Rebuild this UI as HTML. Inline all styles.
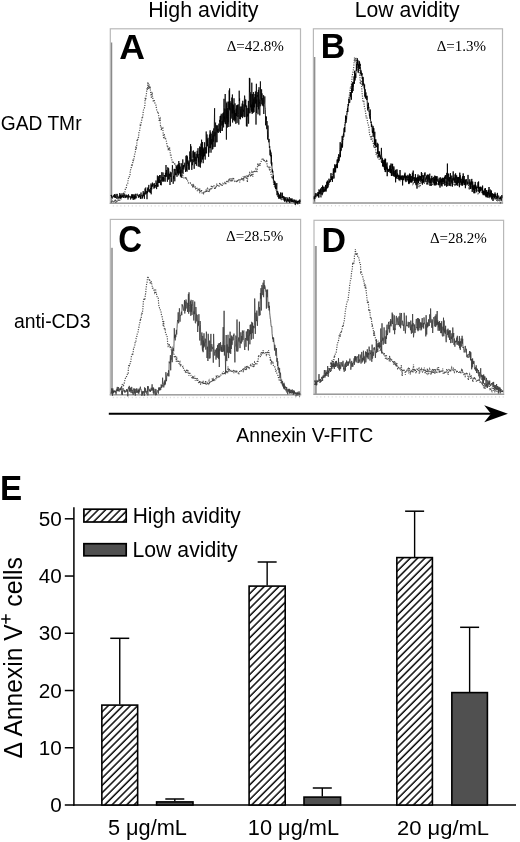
<!DOCTYPE html>
<html><head><meta charset="utf-8"><title>Figure</title>
<style>html,body{margin:0;padding:0;background:#fff;}body{width:520px;height:842px;overflow:hidden;font-family:"Liberation Sans",sans-serif;}svg{display:block;will-change:transform;}</style>
</head><body>
<svg width="520" height="842" viewBox="0 0 520 842"><defs><pattern id="hatch" patternUnits="userSpaceOnUse" width="5.2" height="5.2" patternTransform="rotate(45)"><rect width="5.2" height="5.2" fill="#fff"/><line x1="3.57" y1="0" x2="3.57" y2="5.2" stroke="#000" stroke-width="1.45"/></pattern></defs>
<text transform="translate(148.14,17.00) scale(1.0688,1.1200)" x="0" y="0" font-family='"Liberation Sans", sans-serif' font-weight="normal" font-size="20" fill="#000">High avidity</text>
<text transform="translate(354.65,17.00) scale(1.0602,1.1273)" x="0" y="0" font-family='"Liberation Sans", sans-serif' font-weight="normal" font-size="20" fill="#000">Low avidity</text>
<text transform="translate(0.74,130.40) scale(0.9619,1.0400)" x="0" y="0" font-family='"Liberation Sans", sans-serif' font-weight="normal" font-size="20" fill="#000">GAD TMr</text>
<text transform="translate(13.88,327.50) scale(0.9702,1.0036)" x="0" y="0" font-family='"Liberation Sans", sans-serif' font-weight="normal" font-size="20" fill="#000">anti-CD3</text>
<rect x="110.3" y="28.8" width="190.2" height="174.2" fill="none" stroke="#b8b8b8" stroke-width="1.2"/>
<rect x="110.95" y="42.5" width="1.3" height="160.50" fill="#8a8a8a"/>
<line x1="109.7" y1="203.30" x2="301.1" y2="203.30" stroke="#9a9a9a" stroke-width="1.2"/>
<path d="M113.3,205.2 v1.4 M117.1,205.2 v1.4 M120.9,205.2 v1.4 M124.7,205.2 v1.4 M128.5,205.2 v1.4 M132.3,205.2 v1.4 M136.1,205.2 v1.4 M139.9,205.2 v1.4 M143.7,205.2 v1.4 M147.5,205.2 v1.4 M151.3,205.2 v1.4 M155.1,205.2 v1.4 M158.9,205.2 v1.4 M162.7,205.2 v1.4 M166.5,205.2 v1.4 M170.3,205.2 v1.4 M174.1,205.2 v1.4 M177.9,205.2 v1.4 M181.7,205.2 v1.4 M185.5,205.2 v1.4 M189.3,205.2 v1.4 M193.1,205.2 v1.4 M196.9,205.2 v1.4 M200.7,205.2 v1.4 M204.5,205.2 v1.4 M208.3,205.2 v1.4 M212.1,205.2 v1.4 M215.9,205.2 v1.4 M219.7,205.2 v1.4 M223.5,205.2 v1.4 M227.3,205.2 v1.4 M231.1,205.2 v1.4 M234.9,205.2 v1.4 M238.7,205.2 v1.4 M242.5,205.2 v1.4 M246.3,205.2 v1.4 M250.1,205.2 v1.4 M253.9,205.2 v1.4 M257.7,205.2 v1.4 M261.5,205.2 v1.4 M265.3,205.2 v1.4 M269.1,205.2 v1.4 M272.9,205.2 v1.4 M276.7,205.2 v1.4 M280.5,205.2 v1.4 M284.3,205.2 v1.4 M288.1,205.2 v1.4 M291.9,205.2 v1.4 M295.7,205.2 v1.4 M299.5,205.2 v1.4" stroke="#d8d8d8" stroke-width="1"/>
<rect x="313.4" y="28.8" width="189.10000000000002" height="174.0" fill="none" stroke="#b8b8b8" stroke-width="1.2"/>
<rect x="314.05" y="57.0" width="1.3" height="145.80" fill="#8a8a8a"/>
<line x1="312.79999999999995" y1="203.10" x2="503.1" y2="203.10" stroke="#9a9a9a" stroke-width="1.2"/>
<path d="M316.4,205.0 v1.4 M320.2,205.0 v1.4 M324.0,205.0 v1.4 M327.8,205.0 v1.4 M331.6,205.0 v1.4 M335.4,205.0 v1.4 M339.2,205.0 v1.4 M343.0,205.0 v1.4 M346.8,205.0 v1.4 M350.6,205.0 v1.4 M354.4,205.0 v1.4 M358.2,205.0 v1.4 M362.0,205.0 v1.4 M365.8,205.0 v1.4 M369.6,205.0 v1.4 M373.4,205.0 v1.4 M377.2,205.0 v1.4 M381.0,205.0 v1.4 M384.8,205.0 v1.4 M388.6,205.0 v1.4 M392.4,205.0 v1.4 M396.2,205.0 v1.4 M400.0,205.0 v1.4 M403.8,205.0 v1.4 M407.6,205.0 v1.4 M411.4,205.0 v1.4 M415.2,205.0 v1.4 M419.0,205.0 v1.4 M422.8,205.0 v1.4 M426.6,205.0 v1.4 M430.4,205.0 v1.4 M434.2,205.0 v1.4 M438.0,205.0 v1.4 M441.8,205.0 v1.4 M445.6,205.0 v1.4 M449.4,205.0 v1.4 M453.2,205.0 v1.4 M457.0,205.0 v1.4 M460.8,205.0 v1.4 M464.6,205.0 v1.4 M468.4,205.0 v1.4 M472.2,205.0 v1.4 M476.0,205.0 v1.4 M479.8,205.0 v1.4 M483.6,205.0 v1.4 M487.4,205.0 v1.4 M491.2,205.0 v1.4 M495.0,205.0 v1.4 M498.8,205.0 v1.4" stroke="#d8d8d8" stroke-width="1"/>
<rect x="110.3" y="219.4" width="190.3" height="175.20000000000002" fill="none" stroke="#b8b8b8" stroke-width="1.2"/>
<rect x="110.80" y="247.8" width="2.2" height="146.80" fill="#a8a8a8"/>
<line x1="109.7" y1="394.90" x2="301.20000000000005" y2="394.90" stroke="#9a9a9a" stroke-width="1.2"/>
<path d="M113.3,396.8 v1.4 M117.1,396.8 v1.4 M120.9,396.8 v1.4 M124.7,396.8 v1.4 M128.5,396.8 v1.4 M132.3,396.8 v1.4 M136.1,396.8 v1.4 M139.9,396.8 v1.4 M143.7,396.8 v1.4 M147.5,396.8 v1.4 M151.3,396.8 v1.4 M155.1,396.8 v1.4 M158.9,396.8 v1.4 M162.7,396.8 v1.4 M166.5,396.8 v1.4 M170.3,396.8 v1.4 M174.1,396.8 v1.4 M177.9,396.8 v1.4 M181.7,396.8 v1.4 M185.5,396.8 v1.4 M189.3,396.8 v1.4 M193.1,396.8 v1.4 M196.9,396.8 v1.4 M200.7,396.8 v1.4 M204.5,396.8 v1.4 M208.3,396.8 v1.4 M212.1,396.8 v1.4 M215.9,396.8 v1.4 M219.7,396.8 v1.4 M223.5,396.8 v1.4 M227.3,396.8 v1.4 M231.1,396.8 v1.4 M234.9,396.8 v1.4 M238.7,396.8 v1.4 M242.5,396.8 v1.4 M246.3,396.8 v1.4 M250.1,396.8 v1.4 M253.9,396.8 v1.4 M257.7,396.8 v1.4 M261.5,396.8 v1.4 M265.3,396.8 v1.4 M269.1,396.8 v1.4 M272.9,396.8 v1.4 M276.7,396.8 v1.4 M280.5,396.8 v1.4 M284.3,396.8 v1.4 M288.1,396.8 v1.4 M291.9,396.8 v1.4 M295.7,396.8 v1.4 M299.5,396.8 v1.4" stroke="#d8d8d8" stroke-width="1"/>
<rect x="314.0" y="220.3" width="189.60000000000002" height="173.7" fill="none" stroke="#b8b8b8" stroke-width="1.2"/>
<rect x="314.80" y="246.0" width="2.0" height="148.00" fill="#9a9a9a"/>
<line x1="313.4" y1="394.30" x2="504.20000000000005" y2="394.30" stroke="#9a9a9a" stroke-width="1.2"/>
<path d="M317.0,396.2 v1.4 M320.8,396.2 v1.4 M324.6,396.2 v1.4 M328.4,396.2 v1.4 M332.2,396.2 v1.4 M336.0,396.2 v1.4 M339.8,396.2 v1.4 M343.6,396.2 v1.4 M347.4,396.2 v1.4 M351.2,396.2 v1.4 M355.0,396.2 v1.4 M358.8,396.2 v1.4 M362.6,396.2 v1.4 M366.4,396.2 v1.4 M370.2,396.2 v1.4 M374.0,396.2 v1.4 M377.8,396.2 v1.4 M381.6,396.2 v1.4 M385.4,396.2 v1.4 M389.2,396.2 v1.4 M393.0,396.2 v1.4 M396.8,396.2 v1.4 M400.6,396.2 v1.4 M404.4,396.2 v1.4 M408.2,396.2 v1.4 M412.0,396.2 v1.4 M415.8,396.2 v1.4 M419.6,396.2 v1.4 M423.4,396.2 v1.4 M427.2,396.2 v1.4 M431.0,396.2 v1.4 M434.8,396.2 v1.4 M438.6,396.2 v1.4 M442.4,396.2 v1.4 M446.2,396.2 v1.4 M450.0,396.2 v1.4 M453.8,396.2 v1.4 M457.6,396.2 v1.4 M461.4,396.2 v1.4 M465.2,396.2 v1.4 M469.0,396.2 v1.4 M472.8,396.2 v1.4 M476.6,396.2 v1.4 M480.4,396.2 v1.4 M484.2,396.2 v1.4 M488.0,396.2 v1.4 M491.8,396.2 v1.4 M495.6,396.2 v1.4 M499.4,396.2 v1.4 M503.2,396.2 v1.4" stroke="#d8d8d8" stroke-width="1"/>
<text transform="translate(119.16,58.60) scale(1.0470,1.0439)" x="0" y="0" font-family='"Liberation Sans", sans-serif' font-weight="bold" font-size="34" fill="#000">A</text>
<text transform="translate(320.81,57.70) scale(0.9981,1.0353)" x="0" y="0" font-family='"Liberation Sans", sans-serif' font-weight="bold" font-size="34" fill="#000">B</text>
<text transform="translate(118.28,251.50) scale(0.9699,1.0753)" x="0" y="0" font-family='"Liberation Sans", sans-serif' font-weight="bold" font-size="34" fill="#000">C</text>
<text transform="translate(321.51,251.50) scale(0.9988,1.0567)" x="0" y="0" font-family='"Liberation Sans", sans-serif' font-weight="bold" font-size="34" fill="#000">D</text>
<text transform="translate(-0.04,499.90) scale(0.9769,1.0439)" x="0" y="0" font-family='"Liberation Sans", sans-serif' font-weight="bold" font-size="34" fill="#000">E</text>
<text transform="translate(226.63,50.70) scale(1.0072,0.9825)" x="0" y="0" font-family='"Liberation Serif", serif' font-weight="normal" font-size="15" fill="#000">Δ=42.8%</text>
<text transform="translate(436.64,50.70) scale(1.0021,0.9825)" x="0" y="0" font-family='"Liberation Serif", serif' font-weight="normal" font-size="15" fill="#000">Δ=1.3%</text>
<text transform="translate(226.03,241.40) scale(1.0072,0.9524)" x="0" y="0" font-family='"Liberation Serif", serif' font-weight="normal" font-size="15" fill="#000">Δ=28.5%</text>
<text transform="translate(429.94,243.00) scale(1.0018,0.9825)" x="0" y="0" font-family='"Liberation Serif", serif' font-weight="normal" font-size="15" fill="#000">Δ=28.2%</text>
<path d="M111.0,201.5 111.5,202.6 111.9,202.4 112.4,200.9 112.8,201.0 113.3,200.8 113.7,201.7 114.2,201.1 114.6,201.8 115.1,199.3 115.5,202.6 116.0,200.9 116.4,201.6 116.9,200.7 117.3,200.4 117.8,201.3 118.2,201.6 118.7,200.4 119.1,200.4 119.6,201.3 120.0,199.5 120.5,198.1 120.9,199.7 121.4,197.8 121.8,195.6 122.3,196.4 122.7,196.2 123.2,194.6 123.6,193.6 124.1,194.9 124.5,194.4 125.0,191.3 125.4,189.0 125.9,188.9 126.3,187.8 126.8,184.7 127.2,184.4 127.7,183.5 128.1,180.0 128.6,177.5 129.0,177.7 129.5,175.9 129.9,175.7 130.4,170.2 130.8,169.6 131.3,167.5 131.7,164.0 132.2,165.0 132.6,163.7 133.1,159.5 133.5,161.2 134.0,158.2 134.4,155.8 134.9,153.4 135.3,152.4 135.8,146.2 136.2,147.7 136.7,145.7 137.1,139.2 137.6,141.0 138.0,137.6 138.5,137.4 138.9,132.8 139.4,131.5 139.8,130.0 140.3,125.3 140.7,126.1 141.2,122.5 141.6,121.5 142.1,117.0 142.5,117.8 143.0,114.3 143.4,110.2 143.9,109.4 144.3,108.2 144.8,106.7 145.2,97.5 145.7,99.9 146.1,96.3 146.6,92.5 147.0,88.0 147.5,89.8 147.9,82.1 148.4,86.2 148.8,89.0 149.3,84.6 149.7,88.5 150.2,87.8 150.6,92.3 151.1,96.2 151.5,98.3 152.0,91.8 152.4,95.4 152.9,99.0 153.3,101.9 153.8,100.7 154.2,99.5 154.7,102.7 155.1,103.3 155.6,104.7 156.0,105.3 156.5,109.2 156.9,110.7 157.4,111.6 157.8,113.1 158.3,112.6 158.7,115.9 159.2,120.9 159.6,119.7 160.1,118.7 160.5,125.8 161.0,125.7 161.4,130.3 161.9,127.8 162.3,128.3 162.8,127.9 163.2,134.8 163.7,138.8 164.1,133.7 164.6,135.4 165.0,139.0 165.5,137.6 165.9,140.0 166.4,141.2 166.8,143.5 167.3,146.5 167.7,145.8 168.2,148.8 168.6,147.7 169.1,150.4 169.5,147.4 170.0,150.0 170.4,155.5 170.9,154.4 171.3,157.9 171.8,159.2 172.2,162.0 172.7,162.1 173.1,163.3 173.6,162.2 174.0,162.1 174.5,162.9 174.9,164.1 175.4,163.9 175.8,165.8 176.3,167.4 176.7,168.8 177.2,168.6 177.6,166.5 178.1,170.1 178.5,171.1 179.0,173.0 179.4,172.7 179.9,171.3 180.3,171.7 180.8,176.6 181.2,175.1 181.7,177.3 182.1,178.3 182.6,174.2 183.0,176.6 183.5,177.2 183.9,177.8 184.4,178.3 184.8,178.3 185.3,178.7 185.7,176.7 186.2,179.2 186.6,178.9 187.1,180.6 187.5,180.3 188.0,182.3 188.4,183.0 188.9,182.7 189.3,183.1 189.8,183.1 190.2,182.8 190.7,183.6 191.1,183.5 191.6,185.1 192.0,185.0 192.5,186.2 192.9,183.9 193.4,187.4 193.8,185.4 194.3,185.8 194.7,187.0 195.2,186.8 195.6,188.4 196.1,187.6 196.5,187.2 197.0,187.9 197.4,191.3 197.9,189.9 198.3,188.5 198.8,190.4 199.2,188.4 199.7,193.3 200.1,188.9 200.6,191.9 201.0,192.3 201.5,189.7 201.9,192.4 202.4,193.6 202.8,193.1 203.3,192.7 203.7,193.5 204.2,192.2 204.6,192.2 205.1,191.3 205.5,192.1 206.0,189.7 206.4,191.9 206.9,189.9 207.3,188.8 207.8,190.6 208.2,192.3 208.7,191.0 209.1,188.7 209.6,190.2 210.0,188.4 210.5,188.6 210.9,188.8 211.4,185.2 211.8,188.6 212.3,186.6 212.7,186.9 213.2,185.6 213.6,185.4 214.1,186.0 214.5,188.4 215.0,189.4 215.4,186.8 215.9,188.2 216.3,186.1 216.8,183.6 217.2,186.3 217.7,186.6 218.1,185.1 218.6,186.0 219.0,186.2 219.5,183.9 219.9,182.8 220.4,184.4 220.8,184.1 221.3,183.7 221.7,185.4 222.2,186.2 222.6,182.9 223.1,184.2 223.5,184.3 224.0,183.7 224.4,184.0 224.9,181.7 225.3,183.1 225.8,184.7 226.2,182.7 226.7,180.4 227.1,181.9 227.6,182.6 228.0,181.1 228.5,179.5 228.9,182.3 229.4,178.2 229.8,180.8 230.3,180.1 230.7,178.4 231.2,181.9 231.6,180.7 232.1,178.5 232.5,181.1 233.0,179.6 233.4,177.5 233.9,179.3 234.3,180.7 234.8,181.3 235.2,180.6 235.7,180.5 236.1,181.1 236.6,180.2 237.0,182.2 237.5,180.7 237.9,181.0 238.4,181.4 238.8,178.9 239.3,179.3 239.7,182.3 240.2,180.4 240.6,179.3 241.1,180.0 241.5,178.7 242.0,179.6 242.4,178.0 242.9,179.2 243.3,176.3 243.8,180.4 244.2,177.5 244.7,175.8 245.1,177.6 245.6,177.2 246.0,177.7 246.5,175.7 246.9,177.7 247.4,182.2 247.8,174.9 248.3,177.0 248.7,175.7 249.2,176.0 249.6,172.7 250.1,173.3 250.5,175.3 251.0,174.2 251.4,176.2 251.9,172.4 252.3,173.4 252.8,177.0 253.2,171.2 253.7,170.7 254.1,171.5 254.6,171.1 255.0,172.1 255.5,170.6 255.9,169.0 256.4,169.7 256.8,172.5 257.3,169.7 257.7,163.0 258.2,166.1 258.6,164.3 259.1,165.7 259.5,163.7 260.0,165.9 260.4,163.6 260.9,162.6 261.3,160.7 261.8,159.4 262.2,159.1 262.7,160.1 263.1,159.5 263.6,158.7 264.0,161.7 264.5,160.6 264.9,160.8 265.4,160.4 265.8,161.5 266.3,162.1 266.7,159.7 267.2,166.1 267.6,166.2 268.1,165.8 268.5,168.5 269.0,168.5 269.4,169.3 269.9,166.1 270.3,170.3 270.8,172.3 271.2,175.2 271.7,177.3 272.1,178.5 272.6,176.5 273.0,176.8 273.5,182.6 273.9,183.6 274.4,186.3 274.8,185.8 275.3,187.4 275.7,186.0 276.2,190.0 276.6,189.8 277.1,192.1 277.5,193.4 278.0,193.7 278.4,194.9 278.9,194.8 279.3,196.4 279.8,196.4 280.2,195.3 280.7,195.7 281.1,199.6 281.6,197.3 282.0,199.3 282.5,198.9 282.9,197.9 283.4,197.8 283.8,199.2 284.3,199.6 284.7,200.3 285.2,197.6 285.6,198.8 286.1,199.6 286.5,202.3 287.0,196.6 287.4,200.9 287.9,199.6 288.3,201.2 288.8,199.9 289.2,201.3 289.7,203.3 290.1,201.6 290.6,201.9 291.0,201.9 291.5,200.4 291.9,202.5 292.4,201.4 292.8,200.5 293.3,201.7 293.7,201.4 294.2,202.9 294.6,201.7 295.1,201.0 295.5,204.0 296.0,203.3 296.4,203.8 296.9,202.8 297.3,201.7 297.8,201.3 298.2,201.5 298.7,203.4 299.1,202.1 299.6,199.8 300.0,201.9" fill="none" stroke="#4a4a4a" stroke-width="1.2" stroke-dasharray="1.1 1.3"/>
<path d="M111.0,195.2 111.2,195.8 111.4,194.9 111.6,197.4 111.8,196.6 112.0,197.2 112.2,198.3 112.4,198.4 112.6,197.7 112.8,196.2 113.0,195.8 113.2,195.7 113.4,196.4 113.6,196.9 113.8,195.4 114.0,195.1 114.2,197.4 114.4,194.0 114.6,196.7 114.8,197.6 115.0,195.4 115.2,195.2 115.4,195.7 115.6,198.0 115.8,196.7 116.0,193.9 116.2,196.2 116.4,198.5 116.6,198.5 116.8,197.9 117.0,196.5 117.2,193.9 117.4,197.2 117.6,196.6 117.8,197.0 118.0,199.4 118.2,197.2 118.4,197.3 118.6,197.8 118.8,196.5 119.0,195.8 119.2,195.7 119.4,198.1 119.6,197.7 119.8,193.0 120.0,198.7 120.2,197.1 120.4,194.7 120.6,197.8 120.8,196.6 121.0,194.7 121.2,197.7 121.4,196.3 121.6,196.2 121.8,197.8 122.0,193.3 122.2,194.8 122.4,196.1 122.6,197.2 122.8,195.7 123.0,195.2 123.2,195.1 123.4,196.6 123.6,197.9 123.8,194.5 124.0,193.5 124.2,196.3 124.4,196.2 124.6,195.3 124.8,195.1 125.0,198.1 125.2,195.9 125.4,196.2 125.6,197.7 125.8,196.1 126.0,194.5 126.2,196.6 126.4,195.3 126.6,197.3 126.8,195.9 127.0,196.4 127.2,197.6 127.4,196.5 127.6,195.7 127.8,195.1 128.0,199.5 128.2,198.5 128.4,194.3 128.6,195.0 128.8,197.6 129.0,195.8 129.2,196.7 129.4,197.2 129.6,196.9 129.8,196.5 130.0,195.9 130.2,196.6 130.4,197.3 130.6,199.5 130.8,198.4 131.0,196.4 131.2,198.1 131.4,196.9 131.6,194.3 131.8,196.5 132.0,198.3 132.2,195.7 132.4,198.2 132.6,194.4 132.8,196.7 133.0,194.7 133.2,200.0 133.4,197.4 133.6,198.2 133.8,195.9 134.0,194.3 134.2,198.6 134.4,195.5 134.6,199.3 134.8,195.8 135.0,199.2 135.2,195.4 135.4,193.8 135.6,197.7 135.8,196.5 136.0,196.6 136.2,198.3 136.4,195.2 136.6,194.5 136.8,194.7 137.0,193.9 137.2,193.7 137.4,194.5 137.6,195.0 137.8,195.8 138.0,194.6 138.2,196.3 138.4,197.7 138.6,196.2 138.8,197.2 139.0,195.0 139.2,196.9 139.4,197.2 139.6,195.4 139.8,194.0 140.0,196.1 140.2,196.3 140.4,198.6 140.6,195.7 140.8,198.9 141.0,192.5 141.2,195.8 141.4,195.5 141.6,195.6 141.8,195.4 142.0,196.1 142.2,198.7 142.4,195.7 142.6,197.8 142.8,194.7 143.0,195.7 143.2,191.1 143.4,195.4 143.6,196.3 143.8,192.8 144.0,193.7 144.2,193.1 144.4,198.8 144.6,192.5 144.8,192.8 145.0,188.5 145.2,190.7 145.4,194.4 145.6,188.4 145.8,187.5 146.0,192.8 146.2,193.5 146.4,193.7 146.6,193.7 146.8,191.2 147.0,199.2 147.2,190.8 147.4,193.1 147.6,188.5 147.8,189.9 148.0,187.3 148.2,191.6 148.4,189.8 148.6,187.9 148.8,184.9 149.0,191.7 149.2,192.3 149.4,192.2 149.6,189.3 149.8,191.4 150.0,191.8 150.2,190.4 150.4,193.0 150.6,188.0 150.8,188.9 151.0,183.5 151.2,194.3 151.4,185.4 151.6,188.5 151.8,189.3 152.0,184.6 152.2,186.8 152.4,182.6 152.6,186.2 152.8,185.3 153.0,185.1 153.2,183.6 153.4,185.1 153.6,186.7 153.8,186.8 154.0,188.7 154.2,185.2 154.4,183.2 154.6,187.5 154.8,185.8 155.0,187.8 155.2,185.0 155.4,186.0 155.6,185.3 155.8,186.3 156.0,180.5 156.2,183.2 156.4,184.0 156.6,189.1 156.8,182.9 157.0,184.6 157.2,182.2 157.4,175.5 157.6,186.8 157.8,184.7 158.0,186.6 158.2,177.3 158.4,182.9 158.6,182.4 158.8,176.0 159.0,183.1 159.2,179.1 159.4,182.9 159.6,175.0 159.8,177.6 160.0,178.1 160.2,175.0 160.4,180.6 160.6,185.0 160.8,180.0 161.0,182.3 161.2,185.3 161.4,181.7 161.6,178.1 161.8,172.2 162.0,180.6 162.2,177.9 162.4,177.2 162.6,181.6 162.8,180.8 163.0,172.5 163.2,179.3 163.4,177.0 163.6,181.4 163.8,177.9 164.0,181.4 164.2,175.1 164.4,176.0 164.6,175.2 164.8,176.5 165.0,176.1 165.2,181.7 165.4,172.9 165.6,177.0 165.8,171.9 166.0,165.0 166.2,173.8 166.4,170.0 166.6,176.7 166.8,172.8 167.0,173.5 167.2,177.4 167.4,181.8 167.6,173.2 167.8,167.3 168.0,173.5 168.2,175.0 168.4,179.6 168.6,168.2 168.8,171.2 169.0,178.5 169.2,179.1 169.4,173.7 169.6,175.6 169.8,174.4 170.0,185.0 170.2,171.7 170.4,172.3 170.6,172.7 170.8,176.9 171.0,172.5 171.2,175.9 171.4,177.4 171.6,181.9 171.8,172.8 172.0,172.0 172.2,171.8 172.4,165.2 172.6,168.0 172.8,173.6 173.0,173.5 173.2,183.8 173.4,178.0 173.6,175.9 173.8,178.8 174.0,169.5 174.2,169.8 174.4,168.9 174.6,171.3 174.8,181.3 175.0,170.7 175.2,168.9 175.4,171.8 175.6,175.2 175.8,173.5 176.0,175.0 176.2,165.9 176.4,167.2 176.6,169.9 176.8,171.3 177.0,176.8 177.2,165.0 177.4,173.4 177.6,169.4 177.8,173.1 178.0,167.3 178.2,163.9 178.4,175.3 178.6,171.2 178.8,161.0 179.0,172.9 179.2,165.0 179.4,169.0 179.6,169.3 179.8,163.1 180.0,174.2 180.2,166.6 180.4,176.4 180.6,171.0 180.8,171.0 181.0,169.7 181.2,177.4 181.4,163.4 181.6,164.4 181.8,164.8 182.0,173.1 182.2,172.5 182.4,167.8 182.6,168.5 182.8,159.4 183.0,173.9 183.2,165.8 183.4,167.2 183.6,165.1 183.8,169.5 184.0,165.2 184.2,166.6 184.4,166.4 184.6,163.4 184.8,162.7 185.0,167.4 185.2,167.2 185.4,168.7 185.6,172.0 185.8,158.9 186.0,155.8 186.2,162.6 186.4,170.6 186.6,164.1 186.8,155.3 187.0,171.7 187.2,166.3 187.4,156.4 187.6,159.5 187.8,163.9 188.0,160.5 188.2,162.5 188.4,165.5 188.6,162.9 188.8,169.6 189.0,161.6 189.2,169.8 189.4,159.4 189.6,156.3 189.8,151.5 190.0,157.5 190.2,162.2 190.4,159.6 190.6,144.1 190.8,161.1 191.0,146.3 191.2,152.7 191.4,158.2 191.6,162.2 191.8,169.9 192.0,161.0 192.2,159.4 192.4,165.2 192.6,161.5 192.8,158.8 193.0,151.2 193.2,157.6 193.4,150.5 193.6,160.3 193.8,162.2 194.0,159.3 194.2,168.8 194.4,152.5 194.6,160.8 194.8,158.6 195.0,151.8 195.2,160.9 195.4,162.6 195.6,164.1 195.8,156.8 196.0,161.1 196.2,153.8 196.4,165.7 196.6,161.5 196.8,158.0 197.0,158.2 197.2,150.8 197.4,156.8 197.6,154.5 197.8,157.8 198.0,148.2 198.2,166.4 198.4,157.2 198.6,162.3 198.8,158.7 199.0,154.0 199.2,166.9 199.4,162.0 199.6,146.5 199.8,155.0 200.0,153.6 200.2,150.0 200.4,167.6 200.6,147.1 200.8,163.5 201.0,143.6 201.2,162.2 201.4,150.4 201.6,139.7 201.8,154.9 202.0,156.0 202.2,147.2 202.4,159.4 202.6,142.0 202.8,159.3 203.0,155.8 203.2,163.2 203.4,149.2 203.6,157.1 203.8,147.6 204.0,156.4 204.2,152.5 204.4,155.9 204.6,142.3 204.8,153.5 205.0,152.5 205.2,159.6 205.4,147.3 205.6,148.0 205.8,153.2 206.0,152.1 206.2,131.5 206.4,146.1 206.6,153.4 206.8,144.9 207.0,134.4 207.2,144.3 207.4,146.2 207.6,139.4 207.8,146.2 208.0,137.8 208.2,143.7 208.4,145.3 208.6,156.8 208.8,146.5 209.0,152.7 209.2,145.0 209.4,135.0 209.6,134.5 209.8,148.1 210.0,130.6 210.2,130.3 210.4,148.1 210.6,135.2 210.8,132.4 211.0,152.7 211.2,133.8 211.4,144.4 211.6,139.3 211.8,140.3 212.0,139.3 212.2,146.2 212.4,149.4 212.6,130.8 212.8,149.1 213.0,135.5 213.2,135.4 213.4,141.6 213.6,131.8 213.8,128.4 214.0,147.1 214.2,130.4 214.4,117.9 214.6,108.2 214.8,136.3 215.0,132.2 215.2,146.8 215.4,123.3 215.6,122.6 215.8,132.2 216.0,142.3 216.2,135.6 216.4,131.1 216.6,125.3 216.8,131.2 217.0,142.2 217.2,128.8 217.4,125.4 217.6,132.4 217.8,130.0 218.0,128.9 218.2,131.7 218.4,132.8 218.6,127.9 218.8,123.7 219.0,124.0 219.2,130.1 219.4,131.6 219.6,119.9 219.8,120.4 220.0,122.1 220.2,116.1 220.4,133.0 220.6,115.7 220.8,124.3 221.0,131.0 221.2,113.8 221.4,114.6 221.6,120.3 221.8,125.5 222.0,122.4 222.2,120.9 222.4,130.9 222.6,114.7 222.8,113.4 223.0,124.7 223.2,119.6 223.4,112.5 223.6,127.4 223.8,107.8 224.0,98.8 224.2,121.9 224.4,116.5 224.6,119.3 224.8,108.6 225.0,123.6 225.2,94.0 225.4,121.1 225.6,124.2 225.8,116.9 226.0,115.0 226.2,109.5 226.4,139.6 226.6,103.2 226.8,118.5 227.0,101.7 227.2,107.7 227.4,127.5 227.6,108.2 227.8,124.1 228.0,111.1 228.2,122.2 228.4,101.6 228.6,103.9 228.8,127.0 229.0,116.7 229.2,90.4 229.4,109.1 229.6,88.4 229.8,110.3 230.0,101.1 230.2,104.2 230.4,126.3 230.6,107.9 230.8,107.1 231.0,102.7 231.2,118.6 231.4,117.5 231.6,105.0 231.8,97.6 232.0,110.5 232.2,113.5 232.4,94.5 232.6,122.5 232.8,104.0 233.0,113.0 233.2,105.1 233.4,105.2 233.6,120.3 233.8,112.8 234.0,98.3 234.2,114.9 234.4,119.2 234.6,110.3 234.8,121.4 235.0,103.4 235.2,120.2 235.4,113.0 235.6,113.1 235.8,123.8 236.0,117.8 236.2,108.6 236.4,116.0 236.6,105.3 236.8,115.9 237.0,123.1 237.2,122.2 237.4,104.9 237.6,109.1 237.8,116.9 238.0,116.4 238.2,104.4 238.4,113.0 238.6,114.5 238.8,124.6 239.0,113.0 239.2,90.7 239.4,101.1 239.6,98.5 239.8,119.0 240.0,111.3 240.2,106.6 240.4,119.3 240.6,114.9 240.8,109.5 241.0,116.9 241.2,106.7 241.4,116.7 241.6,113.7 241.8,106.4 242.0,106.6 242.2,103.5 242.4,118.1 242.6,108.8 242.8,100.8 243.0,116.3 243.2,114.1 243.4,109.8 243.6,111.6 243.8,106.3 244.0,104.3 244.2,117.2 244.4,99.3 244.6,95.6 244.8,97.3 245.0,116.9 245.2,99.5 245.4,106.5 245.6,102.4 245.8,99.7 246.0,107.2 246.2,107.6 246.4,126.1 246.6,105.5 246.8,110.8 247.0,126.6 247.2,121.1 247.4,114.0 247.6,116.5 247.8,108.1 248.0,115.8 248.2,110.8 248.4,100.9 248.6,123.7 248.8,108.2 249.0,113.3 249.2,103.6 249.4,77.9 249.6,92.2 249.8,78.4 250.0,113.2 250.2,92.1 250.4,102.7 250.6,107.3 250.8,93.9 251.0,102.4 251.2,110.3 251.4,104.6 251.6,111.8 251.8,82.7 252.0,111.6 252.2,113.9 252.4,94.1 252.6,112.8 252.8,102.3 253.0,103.5 253.2,110.6 253.4,92.1 253.6,112.7 253.8,98.7 254.0,112.0 254.2,104.2 254.4,107.3 254.6,97.3 254.8,104.2 255.0,94.0 255.2,98.1 255.4,91.5 255.6,103.4 255.8,94.9 256.0,124.6 256.2,95.6 256.4,83.8 256.6,113.0 256.8,99.5 257.0,107.0 257.2,102.9 257.4,95.2 257.6,96.6 257.8,92.1 258.0,114.3 258.2,107.2 258.4,89.8 258.6,109.3 258.8,105.7 259.0,87.2 259.2,93.8 259.4,103.3 259.6,102.2 259.8,115.4 260.0,99.5 260.2,106.3 260.4,81.4 260.6,98.2 260.8,98.8 261.0,98.3 261.2,100.3 261.4,99.8 261.6,89.3 261.8,104.2 262.0,93.4 262.2,105.4 262.4,104.7 262.6,105.2 262.8,98.1 263.0,103.5 263.2,106.3 263.4,99.7 263.6,95.2 263.8,114.0 264.0,104.4 264.2,104.2 264.4,102.7 264.6,102.7 264.8,96.4 265.0,106.1 265.2,107.3 265.4,109.7 265.6,125.3 265.8,116.1 266.0,116.0 266.2,119.7 266.4,116.9 266.6,124.4 266.8,128.9 267.0,121.1 267.2,130.2 267.4,130.4 267.6,139.5 267.8,134.8 268.0,125.5 268.2,131.1 268.4,137.5 268.6,138.2 268.8,142.3 269.0,139.0 269.2,142.1 269.4,147.8 269.6,146.5 269.8,146.2 270.0,155.3 270.2,149.7 270.4,152.3 270.6,151.2 270.8,156.4 271.0,152.5 271.2,163.7 271.4,155.0 271.6,165.5 271.8,162.4 272.0,167.4 272.2,172.1 272.4,169.5 272.6,172.4 272.8,170.9 273.0,173.4 273.2,178.9 273.4,175.4 273.6,181.1 273.8,180.9 274.0,180.7 274.2,185.0 274.4,180.9 274.6,184.6 274.8,181.2 275.0,184.3 275.2,182.5 275.4,186.6 275.6,188.8 275.8,184.1 276.0,188.9 276.2,189.0 276.4,188.1 276.6,188.8 276.8,183.0 277.0,195.2 277.2,191.2 277.4,191.7 277.6,192.9 277.8,191.5 278.0,197.1 278.2,193.5 278.4,192.9 278.6,198.6 278.8,197.6 279.0,196.7 279.2,194.7 279.4,198.5 279.6,195.9 279.8,196.5 280.0,198.4 280.2,196.6 280.4,195.6 280.6,192.6 280.8,198.9 281.0,192.7 281.2,195.6 281.4,195.5 281.6,196.2 281.8,196.6 282.0,198.3 282.2,197.0 282.4,192.7 282.6,197.8 282.8,195.9 283.0,197.4 283.2,196.0 283.4,196.9 283.6,198.1 283.8,200.1 284.0,199.6 284.2,200.7 284.4,196.7 284.6,201.6 284.8,198.4 285.0,200.1 285.2,200.5 285.4,200.7 285.6,199.3 285.8,197.2 286.0,200.9 286.2,201.7 286.4,201.6 286.6,201.6 286.8,202.4 287.0,201.3 287.2,199.3 287.4,201.1 287.6,198.3 287.8,199.9 288.0,200.2 288.2,201.8 288.4,199.7 288.6,199.3 288.8,199.4 289.0,201.0 289.2,197.7 289.4,197.0 289.6,202.8 289.8,202.2 290.0,201.4 290.2,201.0 290.4,199.6 290.6,198.4 290.8,201.2 291.0,199.0 291.2,201.9 291.4,201.0 291.6,198.8 291.8,201.1 292.0,198.4 292.2,199.8 292.4,202.1 292.6,199.9 292.8,200.5 293.0,200.1 293.2,200.3 293.4,202.2 293.6,201.7 293.8,201.8 294.0,199.3 294.2,200.9 294.4,200.4 294.6,201.5 294.8,200.1 295.0,202.6 295.2,204.7 295.4,201.7 295.6,200.9 295.8,202.5 296.0,199.8 296.2,201.1 296.4,202.7 296.6,201.3 296.8,201.8 297.0,203.4 297.2,202.1 297.4,202.6 297.6,200.9 297.8,204.3 298.0,201.6 298.2,200.8 298.4,202.1 298.6,202.0 298.8,200.8 299.0,201.8 299.2,202.2 299.4,203.5 299.6,202.2 299.8,199.6 300.0,202.3" fill="none" stroke="#000" stroke-width="0.8" stroke-linejoin="miter"/>
<path d="M314.0,198.4 314.4,199.3 314.9,195.6 315.3,198.9 315.8,196.9 316.2,195.8 316.7,195.5 317.1,195.0 317.6,195.6 318.0,196.5 318.5,195.9 318.9,195.7 319.4,192.9 319.8,192.7 320.3,196.0 320.7,195.0 321.2,196.2 321.6,194.7 322.1,191.6 322.5,193.8 323.0,192.6 323.4,191.6 323.9,189.8 324.3,190.3 324.8,189.6 325.2,190.4 325.7,188.9 326.1,190.2 326.6,186.8 327.0,187.9 327.5,187.2 327.9,184.5 328.4,183.2 328.8,185.0 329.3,183.5 329.7,181.6 330.2,181.4 330.6,179.1 331.1,179.3 331.5,177.2 332.0,177.4 332.4,177.5 332.9,174.7 333.3,175.1 333.8,171.2 334.2,170.9 334.7,168.1 335.1,168.6 335.6,167.5 336.0,165.8 336.5,164.4 336.9,165.4 337.4,164.2 337.8,159.0 338.3,161.2 338.7,155.6 339.2,155.1 339.6,153.8 340.1,152.2 340.5,148.3 341.0,146.7 341.4,145.9 341.9,142.6 342.3,140.6 342.8,140.5 343.2,138.0 343.7,133.3 344.1,130.5 344.6,127.5 345.0,123.8 345.5,120.7 345.9,116.7 346.4,117.0 346.8,112.6 347.3,109.6 347.7,107.3 348.2,105.1 348.6,103.9 349.1,97.3 349.5,94.0 350.0,92.2 350.4,86.9 350.9,88.5 351.3,84.5 351.8,80.6 352.2,75.3 352.7,74.0 353.1,71.7 353.6,67.9 354.0,63.5 354.5,57.6 354.9,61.6 355.4,58.9 355.8,58.6 356.3,63.8 356.7,63.3 357.2,60.0 357.6,64.6 358.1,66.7 358.5,72.1 359.0,67.8 359.4,73.8 359.9,77.4 360.3,84.1 360.8,81.3 361.2,80.2 361.7,86.8 362.1,93.5 362.6,97.2 363.0,101.9 363.5,101.5 363.9,101.4 364.4,107.6 364.8,108.3 365.3,110.4 365.7,113.3 366.2,118.2 366.6,115.8 367.1,117.9 367.5,122.1 368.0,124.4 368.4,125.1 368.9,127.2 369.3,132.0 369.8,135.8 370.2,136.1 370.7,137.6 371.1,140.4 371.6,135.5 372.0,138.1 372.5,141.3 372.9,141.9 373.4,143.9 373.8,147.6 374.3,146.0 374.7,148.6 375.2,146.3 375.6,149.4 376.1,154.9 376.5,152.0 377.0,154.6 377.4,156.3 377.9,154.8 378.3,157.9 378.8,158.0 379.2,159.9 379.7,158.1 380.1,157.3 380.6,158.7 381.0,160.2 381.5,163.0 381.9,162.1 382.4,162.3 382.8,163.3 383.3,166.4 383.7,163.7 384.2,168.4 384.6,163.6 385.1,165.4 385.5,168.8 386.0,168.7 386.4,166.6 386.9,168.7 387.3,167.9 387.8,171.4 388.2,171.1 388.7,169.0 389.1,171.6 389.6,170.5 390.0,171.4 390.5,172.1 390.9,171.2 391.4,173.5 391.8,174.0 392.3,174.3 392.7,176.0 393.2,173.7 393.6,171.7 394.1,174.0 394.5,175.8 395.0,175.8 395.4,177.3 395.9,178.1 396.3,176.6 396.8,176.9 397.2,175.4 397.7,179.5 398.1,177.1 398.6,175.7 399.0,175.8 399.5,177.4 399.9,181.4 400.4,180.1 400.8,175.4 401.3,178.7 401.7,179.6 402.2,180.5 402.6,180.1 403.1,178.4 403.5,180.6 404.0,178.9 404.4,175.8 404.9,178.9 405.3,179.1 405.8,182.4 406.2,182.7 406.7,178.8 407.1,181.3 407.6,181.3 408.0,178.5 408.5,177.4 408.9,181.3 409.4,181.9 409.8,180.6 410.3,176.7 410.7,182.0 411.2,181.1 411.6,180.6 412.1,181.9 412.5,180.4 413.0,183.8 413.4,182.9 413.9,181.9 414.3,183.5 414.8,182.9 415.2,180.1 415.7,182.7 416.1,182.1 416.6,179.6 417.0,181.7 417.5,183.8 417.9,181.8 418.4,185.7 418.8,186.3 419.3,182.4 419.7,184.1 420.2,186.8 420.6,182.4 421.1,181.3 421.5,182.2 422.0,180.4 422.4,180.4 422.9,183.4 423.3,182.2 423.8,183.5 424.2,183.9 424.7,181.5 425.1,182.6 425.6,182.5 426.0,181.7 426.5,181.4 426.9,183.6 427.4,182.7 427.8,183.6 428.3,184.9 428.7,184.9 429.2,180.9 429.6,181.4 430.1,182.5 430.5,183.2 431.0,184.8 431.4,181.2 431.9,182.2 432.3,183.5 432.8,185.3 433.2,185.6 433.7,181.1 434.1,182.6 434.6,181.5 435.0,184.6 435.5,183.8 435.9,182.3 436.4,181.8 436.8,183.6 437.3,184.9 437.7,181.5 438.2,182.4 438.6,183.2 439.1,183.0 439.5,183.6 440.0,181.1 440.4,181.9 440.9,179.0 441.3,183.1 441.8,185.0 442.2,179.1 442.7,181.8 443.1,184.7 443.6,182.7 444.0,179.4 444.5,185.2 444.9,180.3 445.4,185.6 445.8,181.9 446.3,181.7 446.7,183.1 447.2,183.0 447.6,184.1 448.1,183.9 448.5,182.7 449.0,185.5 449.4,184.3 449.9,183.5 450.3,183.3 450.8,182.8 451.2,182.9 451.7,184.2 452.1,183.9 452.6,183.1 453.0,184.9 453.5,182.5 453.9,183.8 454.4,184.6 454.8,180.9 455.3,182.5 455.7,186.1 456.2,181.2 456.6,185.2 457.1,181.0 457.5,183.8 458.0,181.0 458.4,181.8 458.9,182.3 459.3,182.0 459.8,184.9 460.2,184.6 460.7,184.6 461.1,183.4 461.6,186.0 462.0,184.9 462.5,183.6 462.9,181.1 463.4,184.5 463.8,184.6 464.3,183.7 464.7,185.0 465.2,185.2 465.6,183.4 466.1,185.2 466.5,184.9 467.0,185.0 467.4,183.9 467.9,183.9 468.3,185.1 468.8,187.7 469.2,189.7 469.7,185.0 470.1,184.0 470.6,185.7 471.0,185.1 471.5,186.1 471.9,187.9 472.4,185.8 472.8,188.9 473.3,189.6 473.7,191.2 474.2,192.1 474.6,190.9 475.1,193.4 475.5,188.4 476.0,190.0 476.4,190.0 476.9,190.7 477.3,191.9 477.8,189.6 478.2,193.5 478.7,192.9 479.1,191.4 479.6,191.8 480.0,189.3 480.5,186.7 480.9,191.3 481.4,192.2 481.8,192.2 482.3,190.0 482.7,191.4 483.2,195.6 483.6,194.0 484.1,194.0 484.5,192.5 485.0,194.7 485.4,195.9 485.9,195.2 486.3,193.3 486.8,194.8 487.2,192.9 487.7,194.2 488.1,196.0 488.6,194.2 489.0,195.0 489.5,198.2 489.9,195.5 490.4,197.4 490.8,195.7 491.3,194.3 491.7,196.5 492.2,196.0 492.6,193.2 493.1,194.8 493.5,196.4 494.0,199.9 494.4,196.4 494.9,197.5 495.3,198.9 495.8,198.4 496.2,197.4 496.7,201.2 497.1,200.7 497.6,194.1 498.0,200.4 498.5,199.8 498.9,200.7 499.4,199.3 499.8,200.8 500.3,202.9 500.7,202.6 501.2,202.9 501.6,201.8" fill="none" stroke="#4a4a4a" stroke-width="1.2" stroke-dasharray="1.1 1.3"/>
<path d="M314.0,196.4 314.2,198.7 314.4,198.9 314.6,197.1 314.8,197.1 315.0,195.6 315.2,194.8 315.4,193.3 315.6,194.4 315.8,197.3 316.0,195.7 316.2,195.8 316.4,194.5 316.6,193.6 316.8,193.3 317.0,193.7 317.2,196.0 317.4,194.9 317.6,194.0 317.8,193.3 318.0,192.1 318.2,196.5 318.4,192.2 318.6,194.2 318.8,197.7 319.0,189.4 319.2,191.3 319.4,192.3 319.6,193.7 319.8,190.3 320.0,192.8 320.2,193.1 320.4,193.3 320.6,188.5 320.8,193.9 321.0,195.5 321.2,193.2 321.4,191.0 321.6,191.0 321.8,187.0 322.0,192.7 322.2,194.4 322.4,192.6 322.6,185.5 322.8,190.2 323.0,190.6 323.2,189.7 323.4,192.4 323.6,186.8 323.8,188.6 324.0,191.0 324.2,191.6 324.4,189.7 324.6,191.3 324.8,190.0 325.0,186.7 325.2,191.2 325.4,187.4 325.6,184.9 325.8,188.9 326.0,191.6 326.2,189.6 326.4,189.5 326.6,187.6 326.8,181.8 327.0,188.2 327.2,186.9 327.4,180.6 327.6,184.5 327.8,183.6 328.0,187.4 328.2,185.0 328.4,184.9 328.6,184.4 328.8,180.5 329.0,178.7 329.2,182.8 329.4,181.6 329.6,181.8 329.8,181.1 330.0,179.9 330.2,181.9 330.4,180.7 330.6,178.4 330.8,175.1 331.0,173.1 331.2,175.3 331.4,177.9 331.6,180.0 331.8,176.4 332.0,178.6 332.2,179.4 332.4,181.9 332.6,176.5 332.8,179.0 333.0,175.5 333.2,171.5 333.4,168.4 333.6,174.1 333.8,175.0 334.0,178.4 334.2,170.2 334.4,172.5 334.6,170.5 334.8,164.3 335.0,170.6 335.2,168.3 335.4,165.4 335.6,172.4 335.8,166.0 336.0,168.2 336.2,165.8 336.4,164.1 336.6,165.0 336.8,167.0 337.0,162.6 337.2,159.5 337.4,168.1 337.6,164.0 337.8,159.7 338.0,161.5 338.2,156.9 338.4,160.5 338.6,162.5 338.8,154.2 339.0,161.1 339.2,160.1 339.4,156.2 339.6,156.3 339.8,154.2 340.0,153.0 340.2,142.2 340.4,157.2 340.6,149.7 340.8,151.1 341.0,149.2 341.2,150.3 341.4,149.7 341.6,144.2 341.8,147.4 342.0,144.6 342.2,135.9 342.4,147.5 342.6,146.2 342.8,138.8 343.0,138.3 343.2,135.9 343.4,134.2 343.6,133.3 343.8,136.7 344.0,129.3 344.2,127.8 344.4,131.9 344.6,127.4 344.8,132.2 345.0,124.0 345.2,124.1 345.4,121.9 345.6,115.6 345.8,122.9 346.0,122.9 346.2,122.5 346.4,117.6 346.6,119.3 346.8,115.4 347.0,114.4 347.2,110.9 347.4,111.8 347.6,108.0 347.8,112.0 348.0,106.5 348.2,104.0 348.4,106.1 348.6,105.2 348.8,98.7 349.0,99.8 349.2,100.6 349.4,103.0 349.6,102.6 349.8,102.6 350.0,98.0 350.2,95.1 350.4,92.1 350.6,96.6 350.8,93.8 351.0,95.9 351.2,97.1 351.4,99.7 351.6,88.5 351.8,92.8 352.0,83.8 352.2,92.7 352.4,83.6 352.6,86.6 352.8,82.1 353.0,91.0 353.2,86.3 353.4,86.7 353.6,81.9 353.8,82.9 354.0,76.4 354.2,77.8 354.4,83.9 354.6,70.8 354.8,77.1 355.0,80.5 355.2,79.2 355.4,76.8 355.6,73.5 355.8,77.9 356.0,70.7 356.2,70.9 356.4,63.7 356.6,70.7 356.8,67.5 357.0,67.9 357.2,58.2 357.4,61.7 357.6,65.0 357.8,59.9 358.0,67.0 358.2,72.7 358.4,64.7 358.6,67.1 358.8,64.0 359.0,64.4 359.2,60.9 359.4,69.1 359.6,62.3 359.8,65.9 360.0,66.0 360.2,63.9 360.4,66.4 360.6,69.1 360.8,74.0 361.0,70.4 361.2,75.8 361.4,72.7 361.6,72.7 361.8,75.1 362.0,73.2 362.2,78.9 362.4,77.1 362.6,78.2 362.8,85.7 363.0,76.9 363.2,77.5 363.4,82.1 363.6,84.6 363.8,83.5 364.0,87.9 364.2,88.2 364.4,89.4 364.6,84.5 364.8,96.6 365.0,91.8 365.2,89.3 365.4,98.5 365.6,94.5 365.8,92.9 366.0,92.5 366.2,97.5 366.4,96.2 366.6,95.9 366.8,100.1 367.0,95.8 367.2,100.5 367.4,106.7 367.6,109.7 367.8,110.5 368.0,105.0 368.2,105.5 368.4,102.8 368.6,108.3 368.8,106.9 369.0,111.9 369.2,111.4 369.4,115.6 369.6,114.4 369.8,117.2 370.0,118.8 370.2,109.5 370.4,115.5 370.6,120.9 370.8,121.2 371.0,122.9 371.2,121.7 371.4,126.9 371.6,124.0 371.8,125.8 372.0,125.6 372.2,131.2 372.4,132.7 372.6,130.8 372.8,133.1 373.0,125.9 373.2,136.8 373.4,127.9 373.6,133.4 373.8,128.2 374.0,135.1 374.2,135.8 374.4,145.3 374.6,135.9 374.8,131.8 375.0,141.8 375.2,141.2 375.4,139.8 375.6,146.5 375.8,139.3 376.0,144.4 376.2,145.1 376.4,146.9 376.6,146.1 376.8,147.2 377.0,146.7 377.2,142.8 377.4,146.0 377.6,153.8 377.8,153.9 378.0,143.8 378.2,152.8 378.4,154.7 378.6,156.5 378.8,152.3 379.0,151.1 379.2,157.1 379.4,153.1 379.6,151.8 379.8,156.7 380.0,154.8 380.2,155.6 380.4,156.0 380.6,159.1 380.8,157.7 381.0,158.0 381.2,153.8 381.4,147.9 381.6,155.3 381.8,157.0 382.0,162.8 382.2,157.9 382.4,158.6 382.6,166.4 382.8,161.8 383.0,159.8 383.2,163.4 383.4,162.0 383.6,166.6 383.8,164.6 384.0,160.3 384.2,166.8 384.4,160.1 384.6,170.0 384.8,165.9 385.0,158.6 385.2,171.9 385.4,163.2 385.6,158.9 385.8,172.1 386.0,163.8 386.2,166.3 386.4,166.3 386.6,167.6 386.8,169.5 387.0,162.5 387.2,176.2 387.4,170.4 387.6,168.5 387.8,170.6 388.0,169.2 388.2,171.5 388.4,171.1 388.6,171.8 388.8,170.9 389.0,169.1 389.2,170.4 389.4,168.6 389.6,171.4 389.8,165.7 390.0,165.6 390.2,173.0 390.4,165.5 390.6,171.5 390.8,172.7 391.0,163.5 391.2,171.3 391.4,175.8 391.6,169.2 391.8,176.0 392.0,164.2 392.2,164.4 392.4,168.5 392.6,163.8 392.8,174.4 393.0,167.6 393.2,169.7 393.4,169.8 393.6,176.3 393.8,166.4 394.0,168.1 394.2,170.8 394.4,172.6 394.6,175.1 394.8,176.7 395.0,171.1 395.2,175.1 395.4,170.3 395.6,182.3 395.8,174.1 396.0,169.7 396.2,177.8 396.4,175.1 396.6,178.5 396.8,177.7 397.0,169.4 397.2,177.2 397.4,173.8 397.6,173.5 397.8,175.2 398.0,174.8 398.2,175.9 398.4,178.7 398.6,175.6 398.8,176.5 399.0,180.3 399.2,175.2 399.4,177.2 399.6,176.3 399.8,179.8 400.0,170.0 400.2,177.0 400.4,179.6 400.6,177.3 400.8,178.4 401.0,176.2 401.2,178.3 401.4,176.3 401.6,179.5 401.8,176.6 402.0,175.5 402.2,177.1 402.4,175.7 402.6,185.4 402.8,179.1 403.0,177.7 403.2,176.4 403.4,179.9 403.6,175.8 403.8,176.1 404.0,175.6 404.2,176.3 404.4,176.5 404.6,174.2 404.8,178.5 405.0,172.7 405.2,179.2 405.4,181.3 405.6,175.6 405.8,176.1 406.0,181.0 406.2,176.0 406.4,178.2 406.6,177.7 406.8,177.5 407.0,175.6 407.2,180.2 407.4,178.5 407.6,177.1 407.8,177.4 408.0,174.8 408.2,180.3 408.4,180.0 408.6,183.5 408.8,176.3 409.0,184.1 409.2,179.1 409.4,183.0 409.6,173.6 409.8,179.7 410.0,180.9 410.2,174.1 410.4,180.5 410.6,182.3 410.8,176.4 411.0,182.3 411.2,180.6 411.4,182.5 411.6,178.3 411.8,175.9 412.0,177.9 412.2,180.1 412.4,172.7 412.6,180.9 412.8,179.7 413.0,179.4 413.2,170.6 413.4,176.4 413.6,178.9 413.8,178.3 414.0,181.0 414.2,177.0 414.4,177.4 414.6,182.6 414.8,179.4 415.0,179.0 415.2,177.9 415.4,174.1 415.6,181.3 415.8,178.3 416.0,185.2 416.2,177.8 416.4,180.0 416.6,177.8 416.8,180.9 417.0,188.6 417.2,178.9 417.4,177.1 417.6,181.2 417.8,180.9 418.0,174.5 418.2,183.1 418.4,176.6 418.6,183.0 418.8,180.4 419.0,178.3 419.2,181.1 419.4,178.0 419.6,175.6 419.8,178.1 420.0,179.6 420.2,176.0 420.4,180.0 420.6,176.3 420.8,181.8 421.0,179.7 421.2,178.7 421.4,172.1 421.6,180.7 421.8,173.0 422.0,177.6 422.2,175.0 422.4,184.6 422.6,179.4 422.8,180.4 423.0,181.6 423.2,178.4 423.4,181.9 423.6,175.3 423.8,182.7 424.0,181.7 424.2,179.9 424.4,173.4 424.6,173.8 424.8,175.9 425.0,172.4 425.2,181.7 425.4,178.9 425.6,178.8 425.8,179.4 426.0,177.5 426.2,177.3 426.4,178.7 426.6,175.5 426.8,180.0 427.0,180.8 427.2,184.3 427.4,174.6 427.6,176.6 427.8,181.4 428.0,180.8 428.2,178.1 428.4,174.7 428.6,179.8 428.8,180.1 429.0,182.9 429.2,177.5 429.4,180.4 429.6,175.2 429.8,173.7 430.0,185.9 430.2,178.4 430.4,182.8 430.6,181.9 430.8,180.3 431.0,184.0 431.2,186.0 431.4,178.7 431.6,180.3 431.8,175.9 432.0,180.8 432.2,181.7 432.4,178.4 432.6,178.8 432.8,177.9 433.0,179.3 433.2,183.6 433.4,179.3 433.6,179.5 433.8,176.9 434.0,181.6 434.2,181.0 434.4,178.8 434.6,185.2 434.8,175.6 435.0,184.0 435.2,181.6 435.4,176.2 435.6,181.9 435.8,185.4 436.0,183.8 436.2,181.8 436.4,184.5 436.6,176.5 436.8,180.8 437.0,176.2 437.2,179.4 437.4,180.3 437.6,180.3 437.8,180.6 438.0,179.2 438.2,180.7 438.4,181.9 438.6,184.9 438.8,180.7 439.0,185.3 439.2,177.7 439.4,182.9 439.6,182.3 439.8,181.4 440.0,187.6 440.2,180.1 440.4,182.0 440.6,177.4 440.8,178.0 441.0,179.4 441.2,185.6 441.4,181.8 441.6,178.7 441.8,182.0 442.0,186.4 442.2,179.2 442.4,181.5 442.6,177.8 442.8,179.8 443.0,183.8 443.2,177.8 443.4,181.4 443.6,181.6 443.8,179.7 444.0,178.1 444.2,182.4 444.4,178.2 444.6,176.8 444.8,185.6 445.0,180.5 445.2,175.5 445.4,178.3 445.6,178.8 445.8,175.0 446.0,178.9 446.2,183.0 446.4,182.2 446.6,186.7 446.8,172.9 447.0,179.0 447.2,179.4 447.4,163.6 447.6,177.9 447.8,186.1 448.0,178.4 448.2,181.5 448.4,180.5 448.6,173.6 448.8,177.0 449.0,182.4 449.2,184.0 449.4,185.8 449.6,177.3 449.8,181.7 450.0,177.3 450.2,179.0 450.4,173.1 450.6,181.1 450.8,186.2 451.0,181.3 451.2,180.7 451.4,181.7 451.6,181.8 451.8,175.6 452.0,183.1 452.2,178.3 452.4,186.6 452.6,183.0 452.8,180.4 453.0,180.5 453.2,171.4 453.4,180.2 453.6,180.3 453.8,179.9 454.0,177.5 454.2,182.2 454.4,181.4 454.6,178.7 454.8,180.1 455.0,174.5 455.2,183.1 455.4,178.8 455.6,173.4 455.8,177.4 456.0,180.4 456.2,185.1 456.4,179.9 456.6,175.3 456.8,175.8 457.0,184.2 457.2,179.7 457.4,177.3 457.6,182.1 457.8,185.8 458.0,177.3 458.2,179.7 458.4,182.6 458.6,177.0 458.8,177.3 459.0,180.4 459.2,176.9 459.4,187.2 459.6,183.7 459.8,172.7 460.0,178.7 460.2,175.3 460.4,182.5 460.6,178.5 460.8,182.6 461.0,183.8 461.2,178.8 461.4,180.2 461.6,184.1 461.8,182.6 462.0,185.3 462.2,182.4 462.4,177.0 462.6,185.5 462.8,176.0 463.0,177.0 463.2,173.4 463.4,176.2 463.6,183.4 463.8,179.3 464.0,182.4 464.2,176.0 464.4,181.7 464.6,184.8 464.8,185.0 465.0,180.5 465.2,184.2 465.4,188.2 465.6,179.5 465.8,183.7 466.0,182.5 466.2,181.3 466.4,179.3 466.6,180.1 466.8,182.2 467.0,184.7 467.2,181.6 467.4,182.9 467.6,183.0 467.8,183.9 468.0,174.9 468.2,179.8 468.4,180.7 468.6,181.5 468.8,184.6 469.0,185.6 469.2,185.3 469.4,184.4 469.6,181.1 469.8,179.3 470.0,180.9 470.2,189.0 470.4,182.5 470.6,182.5 470.8,189.0 471.0,185.0 471.2,181.3 471.4,184.4 471.6,181.0 471.8,178.9 472.0,187.3 472.2,191.9 472.4,189.5 472.6,181.6 472.8,181.6 473.0,189.7 473.2,187.9 473.4,188.6 473.6,189.3 473.8,185.4 474.0,193.3 474.2,184.7 474.4,192.7 474.6,188.2 474.8,185.8 475.0,188.2 475.2,181.9 475.4,183.3 475.6,188.7 475.8,185.2 476.0,189.5 476.2,192.3 476.4,190.0 476.6,186.6 476.8,190.0 477.0,187.7 477.2,187.1 477.4,187.8 477.6,187.0 477.8,184.0 478.0,182.3 478.2,182.1 478.4,188.6 478.6,181.5 478.8,191.5 479.0,187.0 479.2,188.1 479.4,190.1 479.6,193.1 479.8,186.9 480.0,186.8 480.2,190.0 480.4,187.1 480.6,191.3 480.8,186.7 481.0,189.7 481.2,189.1 481.4,188.3 481.6,187.7 481.8,187.6 482.0,190.4 482.2,189.1 482.4,193.5 482.6,185.6 482.8,192.3 483.0,192.2 483.2,194.7 483.4,190.7 483.6,193.9 483.8,191.4 484.0,190.9 484.2,195.2 484.4,193.1 484.6,190.7 484.8,188.6 485.0,194.4 485.2,193.9 485.4,188.1 485.6,192.1 485.8,196.4 486.0,192.2 486.2,197.3 486.4,194.1 486.6,190.1 486.8,191.3 487.0,195.6 487.2,194.3 487.4,196.9 487.6,192.0 487.8,193.0 488.0,197.9 488.2,194.1 488.4,189.9 488.6,194.0 488.8,193.3 489.0,187.0 489.2,194.4 489.4,195.3 489.6,197.2 489.8,192.8 490.0,196.1 490.2,189.5 490.4,196.6 490.6,193.8 490.8,191.6 491.0,194.5 491.2,196.0 491.4,190.5 491.6,197.3 491.8,199.4 492.0,195.9 492.2,198.2 492.4,194.6 492.6,193.3 492.8,196.7 493.0,201.0 493.2,196.4 493.4,194.0 493.6,194.5 493.8,196.5 494.0,195.8 494.2,194.0 494.4,197.9 494.6,195.2 494.8,197.8 495.0,192.5 495.2,196.9 495.4,194.6 495.6,196.6 495.8,194.4 496.0,198.7 496.2,197.0 496.4,196.8 496.6,196.5 496.8,196.0 497.0,199.4 497.2,198.8 497.4,192.9 497.6,196.8 497.8,198.2 498.0,197.0 498.2,196.2 498.4,196.2 498.6,195.8 498.8,195.8 499.0,199.3 499.2,198.6 499.4,198.3 499.6,199.2 499.8,198.4 500.0,198.5 500.2,196.9 500.4,199.3 500.6,196.6 500.8,198.5 501.0,198.5 501.2,200.8 501.4,199.1 501.6,199.1 501.8,195.1 502.0,197.9" fill="none" stroke="#000" stroke-width="0.9" stroke-linejoin="miter"/>
<path d="M111.0,391.7 111.5,392.1 111.9,392.3 112.4,390.9 112.8,392.3 113.3,391.7 113.7,392.1 114.2,391.6 114.6,392.3 115.1,390.2 115.5,392.8 116.0,392.1 116.4,390.2 116.9,391.4 117.3,391.1 117.8,388.6 118.2,391.1 118.7,389.6 119.1,389.9 119.6,389.4 120.0,389.5 120.5,389.4 120.9,388.7 121.4,385.9 121.8,386.7 122.3,384.6 122.7,384.0 123.2,384.4 123.6,385.3 124.1,384.3 124.5,381.5 125.0,379.9 125.4,378.3 125.9,378.2 126.3,377.8 126.8,375.1 127.2,374.6 127.7,372.6 128.1,372.9 128.6,366.1 129.0,364.4 129.5,365.7 129.9,365.3 130.4,361.8 130.8,361.5 131.3,357.1 131.7,355.2 132.2,354.4 132.6,355.3 133.1,353.3 133.5,349.0 134.0,348.8 134.4,345.5 134.9,344.9 135.3,341.0 135.8,341.2 136.2,338.1 136.7,337.5 137.1,334.6 137.6,332.4 138.0,332.2 138.5,329.0 138.9,327.3 139.4,324.1 139.8,323.8 140.3,318.6 140.7,319.4 141.2,318.2 141.6,312.7 142.1,314.4 142.5,312.6 143.0,307.0 143.4,301.1 143.9,298.2 144.3,298.7 144.8,300.2 145.2,295.4 145.7,293.2 146.1,288.2 146.6,284.2 147.0,283.4 147.5,277.5 147.9,276.3 148.4,278.0 148.8,278.3 149.3,280.5 149.7,279.7 150.2,283.1 150.6,283.9 151.1,281.0 151.5,283.2 152.0,284.6 152.4,288.1 152.9,288.1 153.3,288.8 153.8,289.4 154.2,291.0 154.7,292.4 155.1,290.1 155.6,288.8 156.0,294.0 156.5,294.0 156.9,296.2 157.4,297.5 157.8,297.4 158.3,298.3 158.7,305.0 159.2,306.9 159.6,308.3 160.1,308.6 160.5,310.8 161.0,311.5 161.4,314.5 161.9,315.7 162.3,317.5 162.8,321.0 163.2,325.9 163.7,321.1 164.1,327.8 164.6,329.7 165.0,328.0 165.5,332.7 165.9,334.1 166.4,334.9 166.8,336.6 167.3,336.8 167.7,344.2 168.2,346.4 168.6,346.0 169.1,343.6 169.5,345.7 170.0,346.9 170.4,345.8 170.9,347.8 171.3,350.3 171.8,349.6 172.2,348.3 172.7,350.3 173.1,354.0 173.6,353.8 174.0,354.5 174.5,357.9 174.9,356.4 175.4,355.6 175.8,357.3 176.3,361.6 176.7,356.8 177.2,362.2 177.6,362.2 178.1,360.2 178.5,360.5 179.0,364.0 179.4,362.7 179.9,362.0 180.3,366.3 180.8,364.3 181.2,365.1 181.7,365.3 182.1,365.3 182.6,366.6 183.0,366.4 183.5,368.3 183.9,369.8 184.4,370.4 184.8,371.1 185.3,372.1 185.7,371.4 186.2,369.9 186.6,372.6 187.1,369.3 187.5,371.1 188.0,373.0 188.4,370.6 188.9,375.6 189.3,372.5 189.8,372.3 190.2,373.8 190.7,374.3 191.1,375.7 191.6,376.0 192.0,378.1 192.5,376.9 192.9,377.7 193.4,376.4 193.8,378.7 194.3,377.2 194.7,375.8 195.2,380.7 195.6,377.6 196.1,377.9 196.5,378.4 197.0,380.9 197.4,378.1 197.9,379.9 198.3,381.6 198.8,383.7 199.2,380.9 199.7,381.7 200.1,380.7 200.6,384.8 201.0,381.9 201.5,382.1 201.9,382.4 202.4,381.0 202.8,382.4 203.3,380.7 203.7,384.6 204.2,382.4 204.6,382.4 205.1,384.4 205.5,381.1 206.0,384.8 206.4,385.1 206.9,381.9 207.3,383.8 207.8,382.5 208.2,383.7 208.7,382.2 209.1,380.7 209.6,382.6 210.0,381.2 210.5,381.5 210.9,382.4 211.4,382.5 211.8,381.5 212.3,378.4 212.7,381.1 213.2,379.5 213.6,381.1 214.1,379.0 214.5,381.1 215.0,379.5 215.4,378.4 215.9,378.6 216.3,375.3 216.8,378.4 217.2,377.4 217.7,375.4 218.1,377.3 218.6,376.8 219.0,376.6 219.5,375.6 219.9,376.6 220.4,376.4 220.8,375.1 221.3,374.6 221.7,373.8 222.2,373.3 222.6,374.8 223.1,372.8 223.5,371.3 224.0,373.4 224.4,374.4 224.9,372.1 225.3,373.5 225.8,372.7 226.2,370.3 226.7,371.9 227.1,371.0 227.6,371.9 228.0,366.6 228.5,371.6 228.9,371.2 229.4,368.5 229.8,371.4 230.3,369.8 230.7,370.3 231.2,371.4 231.6,372.2 232.1,370.6 232.5,371.4 233.0,371.2 233.4,369.6 233.9,373.1 234.3,371.9 234.8,371.1 235.2,372.5 235.7,371.9 236.1,370.4 236.6,372.7 237.0,371.5 237.5,372.4 237.9,372.9 238.4,373.0 238.8,374.5 239.3,372.1 239.7,371.3 240.2,370.3 240.6,370.2 241.1,371.9 241.5,371.3 242.0,369.2 242.4,369.4 242.9,369.4 243.3,372.1 243.8,368.2 244.2,369.9 244.7,366.8 245.1,368.6 245.6,370.7 246.0,366.6 246.5,369.9 246.9,365.3 247.4,367.9 247.8,366.0 248.3,367.3 248.7,366.8 249.2,368.0 249.6,367.0 250.1,366.5 250.5,365.2 251.0,366.4 251.4,364.3 251.9,364.3 252.3,364.0 252.8,365.5 253.2,367.6 253.7,364.0 254.1,366.6 254.6,362.0 255.0,362.4 255.5,363.7 255.9,363.6 256.4,363.5 256.8,364.4 257.3,361.1 257.7,362.2 258.2,360.2 258.6,354.9 259.1,356.7 259.5,356.6 260.0,356.7 260.4,356.5 260.9,354.5 261.3,356.0 261.8,351.9 262.2,352.4 262.7,353.0 263.1,350.1 263.6,353.8 264.0,353.5 264.5,352.1 264.9,352.5 265.4,352.6 265.8,352.9 266.3,354.9 266.7,354.0 267.2,351.4 267.6,351.4 268.1,354.7 268.5,350.2 269.0,352.5 269.4,354.8 269.9,356.6 270.3,359.5 270.8,358.7 271.2,364.6 271.7,360.6 272.1,362.5 272.6,363.7 273.0,363.1 273.5,365.8 273.9,366.4 274.4,366.9 274.8,366.8 275.3,368.2 275.7,371.1 276.2,370.9 276.6,372.7 277.1,373.8 277.5,374.8 278.0,375.5 278.4,377.5 278.9,379.0 279.3,380.9 279.8,380.8 280.2,380.3 280.7,381.0 281.1,383.5 281.6,380.9 282.0,383.0 282.5,385.9 282.9,384.5 283.4,384.6 283.8,388.0 284.3,382.8 284.7,387.2 285.2,387.3 285.6,387.8 286.1,390.5 286.5,391.8 287.0,391.5 287.4,390.9 287.9,390.7 288.3,390.1 288.8,390.7 289.2,388.5 289.7,390.4 290.1,392.3 290.6,391.4 291.0,393.1 291.5,389.7 291.9,391.4 292.4,391.0 292.8,394.3 293.3,392.6 293.7,392.8 294.2,391.5 294.6,392.7 295.1,392.0 295.5,392.7 296.0,396.8 296.4,391.9 296.9,393.3 297.3,392.4 297.8,395.7 298.2,392.4 298.7,392.6 299.1,394.5 299.6,396.5 300.0,394.4" fill="none" stroke="#4a4a4a" stroke-width="1.2" stroke-dasharray="1.1 1.3"/>
<path d="M111.0,394.0 111.3,392.1 111.6,388.4 111.9,390.0 112.2,389.9 112.5,395.7 112.8,388.4 113.1,393.5 113.4,390.8 113.7,392.8 114.0,390.5 114.3,391.4 114.6,391.6 114.9,390.8 115.2,392.0 115.5,391.3 115.8,393.3 116.1,394.5 116.4,390.4 116.7,390.1 117.0,389.3 117.3,386.9 117.6,391.2 117.9,389.4 118.2,388.8 118.5,387.1 118.8,390.1 119.1,391.7 119.4,389.4 119.7,388.6 120.0,389.4 120.3,390.3 120.6,388.1 120.9,389.4 121.2,388.2 121.5,390.3 121.8,394.5 122.1,391.0 122.4,395.0 122.7,389.1 123.0,388.1 123.3,390.0 123.6,390.8 123.9,391.5 124.2,391.5 124.5,389.9 124.8,392.6 125.1,390.5 125.4,392.2 125.7,391.6 126.0,391.2 126.3,391.1 126.6,389.1 126.9,391.9 127.2,392.0 127.5,389.6 127.8,396.3 128.1,391.0 128.4,387.9 128.7,387.2 129.0,388.8 129.3,385.9 129.6,391.6 129.9,388.4 130.2,391.6 130.5,387.7 130.8,391.2 131.1,393.1 131.4,392.0 131.7,386.9 132.0,390.9 132.3,389.9 132.6,393.3 132.9,391.7 133.2,394.9 133.5,388.7 133.8,388.4 134.1,388.8 134.4,393.5 134.7,388.7 135.0,391.2 135.3,395.6 135.6,390.8 135.9,388.9 136.2,392.8 136.5,391.7 136.8,388.3 137.1,392.6 137.4,391.3 137.7,392.4 138.0,389.5 138.3,393.4 138.6,389.8 138.9,393.6 139.2,388.5 139.5,391.6 139.8,391.6 140.1,388.1 140.4,386.7 140.7,389.4 141.0,389.2 141.3,389.5 141.6,390.6 141.9,395.8 142.2,391.2 142.5,394.5 142.8,391.7 143.1,393.4 143.4,392.2 143.7,391.1 144.0,392.0 144.3,395.8 144.6,387.4 144.9,391.5 145.2,392.4 145.5,388.3 145.8,392.2 146.1,391.4 146.4,393.7 146.7,392.4 147.0,390.9 147.3,391.6 147.6,386.2 147.9,395.4 148.2,386.2 148.5,387.9 148.8,388.8 149.1,390.4 149.4,389.7 149.7,391.3 150.0,389.4 150.3,392.0 150.6,389.9 150.9,390.7 151.2,387.8 151.5,389.2 151.8,390.6 152.1,384.3 152.4,390.3 152.7,390.1 153.0,387.4 153.3,393.2 153.6,387.8 153.9,394.5 154.2,393.0 154.5,392.0 154.8,390.7 155.1,388.9 155.4,394.4 155.7,395.3 156.0,389.3 156.3,394.9 156.6,393.4 156.9,392.9 157.2,392.1 157.5,390.4 157.8,390.8 158.1,391.4 158.4,393.7 158.7,387.6 159.0,390.8 159.3,387.5 159.6,390.0 159.9,388.9 160.2,387.3 160.5,390.2 160.8,389.9 161.1,384.5 161.4,385.3 161.7,388.0 162.0,384.9 162.3,386.6 162.6,377.7 162.9,383.7 163.2,383.4 163.5,384.6 163.8,387.4 164.1,381.9 164.4,381.4 164.7,385.3 165.0,379.9 165.3,384.4 165.6,380.9 165.9,372.2 166.2,377.5 166.5,381.2 166.8,376.0 167.1,375.4 167.4,374.2 167.7,373.3 168.0,376.1 168.3,372.6 168.6,370.3 168.9,376.4 169.2,361.6 169.5,363.2 169.8,363.1 170.1,361.5 170.4,355.2 170.7,370.3 171.0,358.6 171.3,359.5 171.6,355.9 171.9,349.8 172.2,362.2 172.5,351.0 172.8,350.5 173.1,348.3 173.4,348.2 173.7,351.4 174.0,343.8 174.3,328.2 174.6,338.2 174.9,334.9 175.2,340.4 175.5,334.7 175.8,337.2 176.1,334.4 176.4,329.9 176.7,334.5 177.0,328.4 177.3,323.0 177.6,320.1 177.9,321.3 178.2,312.3 178.5,323.2 178.8,323.2 179.1,315.0 179.4,308.3 179.7,312.7 180.0,321.7 180.3,315.0 180.6,315.5 180.9,315.4 181.2,313.4 181.5,311.7 181.8,315.2 182.1,304.2 182.4,306.2 182.7,305.5 183.0,308.1 183.3,309.7 183.6,310.6 183.9,306.5 184.2,306.0 184.5,300.1 184.8,313.5 185.1,301.4 185.4,310.8 185.7,304.4 186.0,299.5 186.3,302.4 186.6,302.1 186.9,308.5 187.2,302.9 187.5,311.9 187.8,308.4 188.1,307.3 188.4,294.1 188.7,313.7 189.0,292.3 189.3,304.3 189.6,306.4 189.9,311.8 190.2,304.9 190.5,301.3 190.8,315.8 191.1,299.8 191.4,311.7 191.7,304.3 192.0,314.9 192.3,306.7 192.6,301.7 192.9,300.2 193.2,303.9 193.5,314.7 193.8,320.5 194.1,311.5 194.4,314.2 194.7,301.6 195.0,312.2 195.3,322.7 195.6,323.3 195.9,307.0 196.2,314.0 196.5,314.0 196.8,321.4 197.1,314.8 197.4,321.1 197.7,332.0 198.0,324.0 198.3,320.8 198.6,325.6 198.9,314.2 199.2,325.5 199.5,327.8 199.8,340.5 200.1,321.0 200.4,324.4 200.7,334.8 201.0,345.3 201.3,344.3 201.6,337.2 201.9,332.5 202.2,347.7 202.5,350.7 202.8,335.9 203.1,352.2 203.4,340.5 203.7,347.8 204.0,333.3 204.3,346.6 204.6,342.9 204.9,343.0 205.2,338.6 205.5,340.2 205.8,349.6 206.1,343.3 206.4,331.7 206.7,338.4 207.0,358.0 207.3,348.0 207.6,346.7 207.9,361.0 208.2,333.8 208.5,340.3 208.8,354.5 209.1,358.6 209.4,352.3 209.7,340.6 210.0,358.3 210.3,352.3 210.6,343.8 210.9,333.9 211.2,351.5 211.5,345.6 211.8,344.2 212.1,345.4 212.4,348.7 212.7,347.4 213.0,352.6 213.3,362.7 213.6,333.9 213.9,343.9 214.2,351.8 214.5,351.9 214.8,355.6 215.1,349.6 215.4,349.8 215.7,353.9 216.0,359.6 216.3,356.4 216.6,348.2 216.9,357.2 217.2,354.5 217.5,345.2 217.8,358.0 218.1,357.3 218.4,343.5 218.7,359.1 219.0,349.0 219.3,367.0 219.6,343.0 219.9,350.6 220.2,349.2 220.5,342.2 220.8,345.9 221.1,351.5 221.4,346.8 221.7,351.7 222.0,345.0 222.3,352.0 222.6,351.1 222.9,340.7 223.2,327.1 223.5,351.5 223.8,340.0 224.1,310.8 224.4,355.5 224.7,345.2 225.0,353.1 225.3,354.6 225.6,373.0 225.9,350.2 226.2,335.0 226.5,358.0 226.8,361.1 227.1,344.4 227.4,348.1 227.7,352.6 228.0,334.8 228.3,350.7 228.6,358.1 228.9,346.8 229.2,353.1 229.5,338.4 229.8,352.3 230.1,331.7 230.4,342.0 230.7,353.9 231.0,338.7 231.3,349.0 231.6,335.6 231.9,344.7 232.2,344.9 232.5,341.3 232.8,336.6 233.1,340.3 233.4,335.0 233.7,336.1 234.0,333.6 234.3,340.5 234.6,352.3 234.9,362.4 235.2,347.0 235.5,346.0 235.8,335.6 236.1,336.7 236.4,339.6 236.7,351.4 237.0,319.5 237.3,338.3 237.6,351.4 237.9,351.6 238.2,349.1 238.5,337.7 238.8,337.5 239.1,341.5 239.4,321.7 239.7,343.5 240.0,348.1 240.3,341.6 240.6,343.2 240.9,332.3 241.2,343.6 241.5,343.2 241.8,335.9 242.1,341.6 242.4,330.5 242.7,333.9 243.0,339.9 243.3,333.5 243.6,331.5 243.9,330.5 244.2,342.7 244.5,348.1 244.8,350.0 245.1,339.9 245.4,338.1 245.7,339.5 246.0,346.8 246.3,331.5 246.6,339.0 246.9,340.4 247.2,336.5 247.5,329.2 247.8,340.6 248.1,335.4 248.4,350.4 248.7,329.2 249.0,335.5 249.3,335.7 249.6,330.1 249.9,344.3 250.2,324.9 250.5,334.1 250.8,324.5 251.1,328.5 251.4,339.6 251.7,321.9 252.0,322.0 252.3,333.2 252.6,322.9 252.9,331.0 253.2,338.8 253.5,325.8 253.8,327.5 254.1,328.2 254.4,325.5 254.7,298.5 255.0,312.5 255.3,333.9 255.6,322.0 255.9,312.7 256.2,319.4 256.5,321.1 256.8,310.6 257.1,319.1 257.4,325.8 257.7,316.6 258.0,315.5 258.3,310.2 258.6,304.0 258.9,301.5 259.2,315.8 259.5,307.2 259.8,311.8 260.1,315.2 260.4,293.0 260.7,298.7 261.0,288.2 261.3,310.5 261.6,289.9 261.9,285.1 262.2,287.1 262.5,289.5 262.8,295.1 263.1,282.7 263.4,296.4 263.7,297.2 264.0,280.1 264.3,288.9 264.6,285.1 264.9,286.0 265.2,286.9 265.5,290.2 265.8,291.4 266.1,290.7 266.4,308.6 266.7,289.7 267.0,296.0 267.3,297.2 267.6,289.6 267.9,306.0 268.2,308.0 268.5,307.4 268.8,301.9 269.1,310.4 269.4,305.8 269.7,312.9 270.0,315.8 270.3,319.1 270.6,319.3 270.9,323.8 271.2,326.4 271.5,326.8 271.8,326.4 272.1,333.7 272.4,336.1 272.7,339.2 273.0,337.1 273.3,342.0 273.6,337.8 273.9,341.3 274.2,343.9 274.5,350.5 274.8,344.8 275.1,347.5 275.4,347.7 275.7,354.9 276.0,355.8 276.3,348.0 276.6,353.0 276.9,361.8 277.2,358.0 277.5,366.0 277.8,361.3 278.1,369.8 278.4,367.7 278.7,366.9 279.0,373.1 279.3,373.1 279.6,368.1 279.9,378.2 280.2,375.3 280.5,372.7 280.8,378.1 281.1,380.3 281.4,380.6 281.7,379.7 282.0,383.9 282.3,381.7 282.6,381.1 282.9,386.5 283.2,383.4 283.5,383.9 283.8,388.6 284.1,383.5 284.4,389.4 284.7,386.2 285.0,387.4 285.3,387.5 285.6,386.7 285.9,389.0 286.2,391.1 286.5,387.0 286.8,387.6 287.1,390.3 287.4,389.5 287.7,394.3 288.0,391.9 288.3,391.0 288.6,389.7 288.9,391.8 289.2,390.4 289.5,393.4 289.8,389.3 290.1,391.9 290.4,393.1 290.7,390.1 291.0,390.5 291.3,390.6 291.6,393.4 291.9,392.7 292.2,389.4 292.5,392.6 292.8,391.1 293.1,393.4 293.4,394.6 293.7,390.3 294.0,394.2 294.3,390.8 294.6,392.0 294.9,392.2 295.2,392.6 295.5,392.6 295.8,393.1 296.1,394.1 296.4,394.5 296.7,394.1 297.0,393.2 297.3,392.5 297.6,394.5 297.9,394.2 298.2,394.1 298.5,393.7 298.8,394.3 299.1,391.4 299.4,394.5 299.7,394.1 300.0,393.0" fill="none" stroke="#3a3a3a" stroke-width="0.8" stroke-linejoin="miter"/>
<path d="M314.5,383.7 314.9,384.9 315.4,384.3 315.8,384.5 316.3,382.2 316.7,384.5 317.2,383.0 317.6,381.3 318.1,380.7 318.5,380.4 319.0,380.7 319.4,382.6 319.9,381.9 320.3,379.8 320.8,379.5 321.2,382.1 321.7,380.3 322.1,377.7 322.6,377.9 323.0,377.1 323.5,377.3 323.9,377.7 324.4,375.7 324.8,376.0 325.3,375.7 325.7,375.5 326.2,373.1 326.6,373.1 327.1,375.6 327.5,371.6 328.0,371.0 328.4,370.7 328.9,368.4 329.3,367.7 329.8,369.9 330.2,368.4 330.7,363.9 331.1,364.7 331.6,361.6 332.0,360.1 332.5,361.4 332.9,362.7 333.4,359.1 333.8,360.5 334.3,355.4 334.7,356.2 335.2,354.7 335.6,352.9 336.1,352.6 336.5,350.1 337.0,346.4 337.4,343.1 337.9,342.7 338.3,341.8 338.8,339.0 339.2,335.7 339.7,333.7 340.1,336.8 340.6,334.2 341.0,331.1 341.5,331.5 341.9,330.0 342.4,327.1 342.8,324.8 343.3,325.4 343.7,322.3 344.2,321.0 344.6,317.7 345.1,313.7 345.5,309.8 346.0,307.5 346.4,304.5 346.9,303.4 347.3,301.3 347.8,301.0 348.2,299.0 348.7,293.7 349.1,292.2 349.6,286.0 350.0,283.8 350.5,279.6 350.9,278.9 351.4,274.2 351.8,270.4 352.3,268.7 352.7,262.5 353.2,264.3 353.6,263.3 354.1,262.9 354.5,255.4 355.0,254.9 355.4,249.1 355.9,255.2 356.3,253.1 356.8,255.3 357.2,252.7 357.7,256.7 358.1,257.2 358.6,257.1 359.0,258.6 359.5,261.1 359.9,263.3 360.4,263.4 360.8,272.2 361.3,271.3 361.7,273.6 362.2,275.4 362.6,276.2 363.1,278.1 363.5,281.0 364.0,280.8 364.4,285.7 364.9,284.1 365.3,288.7 365.8,285.7 366.2,291.5 366.7,295.6 367.1,300.2 367.6,303.4 368.0,301.0 368.5,304.1 368.9,311.3 369.4,309.5 369.8,309.4 370.3,317.5 370.7,318.8 371.2,317.3 371.6,321.0 372.1,327.4 372.5,326.1 373.0,328.2 373.4,330.9 373.9,336.0 374.3,331.2 374.8,336.6 375.2,337.4 375.7,339.5 376.1,341.4 376.6,341.3 377.0,343.8 377.5,344.6 377.9,347.3 378.4,340.8 378.8,345.8 379.3,347.1 379.7,345.0 380.2,351.2 380.6,350.3 381.1,346.8 381.5,350.3 382.0,353.0 382.4,352.6 382.9,351.8 383.3,354.9 383.8,354.8 384.2,352.9 384.7,354.7 385.1,357.9 385.6,358.2 386.0,354.7 386.5,355.7 386.9,359.9 387.4,358.8 387.8,358.3 388.3,358.1 388.7,359.5 389.2,361.1 389.6,355.7 390.1,361.7 390.5,358.9 391.0,358.5 391.4,360.0 391.9,359.6 392.3,360.1 392.8,362.3 393.2,361.8 393.7,364.6 394.1,360.5 394.6,365.0 395.0,361.8 395.5,364.5 395.9,364.0 396.4,366.6 396.8,363.1 397.3,365.8 397.7,368.8 398.2,368.6 398.6,366.3 399.1,368.5 399.5,369.4 400.0,368.8 400.4,370.3 400.9,370.4 401.3,365.0 401.8,370.5 402.2,376.0 402.7,369.4 403.1,369.9 403.6,370.9 404.0,369.7 404.5,370.5 404.9,370.9 405.4,374.6 405.8,370.6 406.3,372.0 406.7,370.6 407.2,369.2 407.6,369.7 408.1,368.8 408.5,373.3 409.0,370.3 409.4,368.2 409.9,370.7 410.3,374.4 410.8,371.1 411.2,370.6 411.7,371.1 412.1,369.9 412.6,368.7 413.0,372.9 413.5,364.6 413.9,369.5 414.4,368.9 414.8,370.1 415.3,369.1 415.7,372.5 416.2,373.3 416.6,370.7 417.1,368.2 417.5,369.1 418.0,369.8 418.4,368.8 418.9,368.2 419.3,373.6 419.8,372.1 420.2,368.7 420.7,368.9 421.1,370.6 421.6,369.2 422.0,371.5 422.5,371.9 422.9,370.5 423.4,368.8 423.8,369.9 424.3,367.6 424.7,369.9 425.2,373.8 425.6,369.6 426.1,371.9 426.5,372.9 427.0,373.7 427.4,368.4 427.9,370.5 428.3,369.9 428.8,373.4 429.2,372.9 429.7,369.1 430.1,370.1 430.6,371.8 431.0,374.9 431.5,370.6 431.9,373.5 432.4,369.8 432.8,369.2 433.3,372.9 433.7,370.0 434.2,368.6 434.6,373.7 435.1,372.5 435.5,369.1 436.0,372.9 436.4,372.2 436.9,372.4 437.3,369.5 437.8,370.7 438.2,367.6 438.7,367.6 439.1,372.8 439.6,370.6 440.0,371.8 440.5,371.0 440.9,370.4 441.4,370.5 441.8,372.3 442.3,371.0 442.7,368.6 443.2,373.4 443.6,373.8 444.1,372.7 444.5,373.9 445.0,371.5 445.4,371.2 445.9,373.2 446.3,372.0 446.8,368.9 447.2,370.7 447.7,371.1 448.1,374.8 448.6,370.9 449.0,369.4 449.5,368.8 449.9,370.4 450.4,369.5 450.8,370.4 451.3,368.7 451.7,367.6 452.2,370.0 452.6,371.0 453.1,370.6 453.5,367.7 454.0,370.0 454.4,372.1 454.9,371.3 455.3,369.7 455.8,370.1 456.2,370.2 456.7,371.5 457.1,370.5 457.6,372.1 458.0,371.7 458.5,371.8 458.9,373.0 459.4,373.2 459.8,371.0 460.3,371.3 460.7,373.6 461.2,371.5 461.6,369.9 462.1,371.2 462.5,370.4 463.0,372.4 463.4,372.9 463.9,375.3 464.3,373.9 464.8,374.4 465.2,376.2 465.7,375.1 466.1,372.4 466.6,374.1 467.0,373.3 467.5,374.3 467.9,377.0 468.4,380.2 468.8,376.8 469.3,376.0 469.7,374.5 470.2,376.5 470.6,379.0 471.1,375.1 471.5,377.6 472.0,378.6 472.4,379.2 472.9,382.0 473.3,378.1 473.8,378.8 474.2,376.8 474.7,378.1 475.1,377.6 475.6,379.7 476.0,380.7 476.5,381.4 476.9,381.9 477.4,379.9 477.8,379.3 478.3,379.5 478.7,381.1 479.2,381.1 479.6,380.1 480.1,383.2 480.5,380.8 481.0,382.9 481.4,382.3 481.9,384.3 482.3,384.8 482.8,382.5 483.2,385.1 483.7,388.1 484.1,385.5 484.6,383.0 485.0,389.0 485.5,383.6 485.9,386.8 486.4,383.8 486.8,387.2 487.3,385.8 487.7,387.2 488.2,386.9 488.6,384.0 489.1,383.9 489.5,385.5 490.0,388.7 490.4,387.9 490.9,389.6 491.3,389.8 491.8,390.9 492.2,386.3 492.7,386.1 493.1,386.3 493.6,390.9 494.0,387.9 494.5,389.4 494.9,392.4 495.4,388.4 495.8,388.1 496.3,387.6 496.7,391.2 497.2,391.4 497.6,389.8 498.1,389.1 498.5,389.7 499.0,390.7 499.4,392.0 499.9,388.5 500.3,389.0 500.8,392.0 501.2,392.1 501.7,390.8 502.1,390.5 502.6,392.7" fill="none" stroke="#4a4a4a" stroke-width="1.2" stroke-dasharray="1.1 1.3"/>
<path d="M314.5,381.6 314.8,380.5 315.1,382.0 315.4,384.9 315.7,380.9 316.0,380.7 316.3,381.8 316.6,385.3 316.9,380.2 317.2,380.4 317.5,382.1 317.8,381.7 318.1,382.0 318.4,379.7 318.7,378.7 319.0,374.1 319.3,381.0 319.6,379.5 319.9,380.7 320.2,379.6 320.5,382.4 320.8,380.4 321.1,379.2 321.4,378.7 321.7,377.1 322.0,377.1 322.3,377.0 322.6,380.9 322.9,376.7 323.2,375.4 323.5,377.1 323.8,377.9 324.1,373.2 324.4,370.0 324.7,374.6 325.0,377.5 325.3,373.0 325.6,375.9 325.9,370.2 326.2,375.5 326.5,371.9 326.8,372.3 327.1,373.1 327.4,374.3 327.7,366.0 328.0,375.2 328.3,376.8 328.6,370.7 328.9,373.2 329.2,368.6 329.5,370.6 329.8,370.4 330.1,368.3 330.4,372.0 330.7,370.7 331.0,370.7 331.3,371.1 331.6,362.6 331.9,369.0 332.2,363.5 332.5,366.4 332.8,367.1 333.1,361.0 333.4,367.2 333.7,363.0 334.0,365.4 334.3,369.0 334.6,363.7 334.9,366.8 335.2,361.9 335.5,366.9 335.8,361.1 336.1,363.0 336.4,360.9 336.7,366.4 337.0,362.7 337.3,363.9 337.6,366.1 337.9,367.9 338.2,366.9 338.5,358.0 338.8,369.3 339.1,367.6 339.4,364.5 339.7,370.6 340.0,362.1 340.3,364.6 340.6,368.9 340.9,367.2 341.2,366.5 341.5,364.0 341.8,362.1 342.1,363.9 342.4,366.6 342.7,363.6 343.0,360.8 343.3,364.0 343.6,369.4 343.9,368.1 344.2,371.8 344.5,365.4 344.8,364.8 345.1,363.6 345.4,370.7 345.7,362.5 346.0,364.7 346.3,367.0 346.6,360.5 346.9,362.9 347.2,361.9 347.5,363.9 347.8,366.0 348.1,361.5 348.4,365.3 348.7,361.8 349.0,363.5 349.3,362.9 349.6,361.0 349.9,358.6 350.2,362.4 350.5,362.2 350.8,369.7 351.1,367.0 351.4,366.7 351.7,360.9 352.0,366.8 352.3,365.6 352.6,362.8 352.9,366.7 353.2,362.9 353.5,363.0 353.8,361.1 354.1,358.3 354.4,364.8 354.7,356.4 355.0,361.4 355.3,356.0 355.6,360.2 355.9,356.4 356.2,362.4 356.5,357.6 356.8,357.9 357.1,356.5 357.4,356.7 357.7,356.5 358.0,363.1 358.3,359.4 358.6,354.4 358.9,362.9 359.2,359.4 359.5,361.0 359.8,361.6 360.1,354.5 360.4,355.9 360.7,358.4 361.0,363.6 361.3,361.3 361.6,352.1 361.9,352.1 362.2,362.4 362.5,357.9 362.8,360.8 363.1,361.2 363.4,350.7 363.7,360.0 364.0,356.6 364.3,356.5 364.6,363.7 364.9,356.7 365.2,354.5 365.5,351.5 365.8,362.4 366.1,358.8 366.4,352.1 366.7,356.7 367.0,357.3 367.3,349.3 367.6,357.4 367.9,353.0 368.2,359.2 368.5,352.8 368.8,354.6 369.1,346.6 369.4,350.9 369.7,350.3 370.0,360.5 370.3,352.7 370.6,354.1 370.9,350.2 371.2,350.6 371.5,353.4 371.8,361.8 372.1,344.6 372.4,358.6 372.7,357.8 373.0,351.9 373.3,354.5 373.6,355.7 373.9,347.7 374.2,349.7 374.5,347.4 374.8,348.9 375.1,352.1 375.4,357.9 375.7,352.0 376.0,350.6 376.3,339.2 376.6,352.8 376.9,344.5 377.2,349.9 377.5,349.1 377.8,352.0 378.1,344.2 378.4,346.9 378.7,345.3 379.0,343.2 379.3,348.1 379.6,342.3 379.9,342.3 380.2,345.6 380.5,347.4 380.8,328.5 381.1,341.9 381.4,340.6 381.7,353.4 382.0,323.3 382.3,340.5 382.6,340.6 382.9,337.6 383.2,344.7 383.5,339.0 383.8,337.9 384.1,327.4 384.4,338.9 384.7,339.1 385.0,343.6 385.3,336.4 385.6,343.5 385.9,344.0 386.2,330.4 386.5,338.9 386.8,326.6 387.1,324.7 387.4,335.1 387.7,333.5 388.0,329.1 388.3,324.4 388.6,321.9 388.9,329.1 389.2,325.1 389.5,332.4 389.8,332.6 390.1,321.3 390.4,325.5 390.7,319.1 391.0,326.4 391.3,324.1 391.6,320.4 391.9,320.1 392.2,312.6 392.5,324.0 392.8,314.2 393.1,322.5 393.4,330.2 393.7,327.0 394.0,321.1 394.3,315.4 394.6,334.2 394.9,328.3 395.2,329.9 395.5,324.0 395.8,323.8 396.1,317.6 396.4,315.9 396.7,322.8 397.0,325.1 397.3,322.9 397.6,318.4 397.9,317.6 398.2,323.2 398.5,324.9 398.8,320.4 399.1,316.2 399.4,326.5 399.7,323.6 400.0,312.9 400.3,316.7 400.6,328.2 400.9,321.3 401.2,314.8 401.5,313.0 401.8,324.1 402.1,325.3 402.4,320.8 402.7,320.9 403.0,322.7 403.3,326.0 403.6,324.7 403.9,330.9 404.2,312.8 404.5,320.1 404.8,325.3 405.1,326.9 405.4,333.4 405.7,327.6 406.0,324.7 406.3,315.6 406.6,326.0 406.9,325.4 407.2,326.3 407.5,325.2 407.8,325.5 408.1,321.8 408.4,322.4 408.7,327.7 409.0,325.0 409.3,322.1 409.6,322.9 409.9,327.1 410.2,327.0 410.5,330.2 410.8,320.6 411.1,330.0 411.4,333.7 411.7,324.6 412.0,324.9 412.3,332.8 412.6,314.0 412.9,326.4 413.2,323.2 413.5,337.3 413.8,334.2 414.1,331.9 414.4,324.5 414.7,330.6 415.0,332.9 415.3,329.5 415.6,329.9 415.9,323.4 416.2,319.3 416.5,318.9 416.8,328.1 417.1,327.0 417.4,329.8 417.7,318.0 418.0,331.2 418.3,323.1 418.6,318.4 418.9,330.2 419.2,323.6 419.5,319.3 419.8,327.9 420.1,327.4 420.4,322.4 420.7,326.7 421.0,330.4 421.3,322.6 421.6,329.3 421.9,322.3 422.2,318.1 422.5,323.9 422.8,327.3 423.1,325.5 423.4,322.9 423.7,328.5 424.0,317.4 424.3,321.3 424.6,324.2 424.9,323.8 425.2,324.4 425.5,324.6 425.8,336.4 426.1,315.2 426.4,323.4 426.7,334.5 427.0,322.5 427.3,323.0 427.6,327.4 427.9,322.5 428.2,326.3 428.5,319.4 428.8,322.9 429.1,326.0 429.4,325.8 429.7,314.4 430.0,319.7 430.3,322.7 430.6,308.5 430.9,318.1 431.2,319.3 431.5,320.4 431.8,327.8 432.1,319.4 432.4,320.8 432.7,333.0 433.0,324.6 433.3,319.4 433.6,318.2 433.9,317.0 434.2,317.8 434.5,322.0 434.8,326.4 435.1,315.9 435.4,319.5 435.7,326.9 436.0,314.3 436.3,319.2 436.6,325.4 436.9,317.1 437.2,311.0 437.5,324.6 437.8,320.5 438.1,330.7 438.4,322.0 438.7,327.3 439.0,323.7 439.3,330.9 439.6,321.0 439.9,329.7 440.2,323.0 440.5,323.6 440.8,333.1 441.1,323.4 441.4,333.1 441.7,321.2 442.0,333.0 442.3,335.7 442.6,336.4 442.9,326.7 443.2,330.4 443.5,317.7 443.8,336.2 444.1,320.5 444.4,332.5 444.7,330.7 445.0,328.7 445.3,333.8 445.6,325.8 445.9,339.0 446.2,342.2 446.5,335.9 446.8,333.6 447.1,329.7 447.4,335.1 447.7,334.5 448.0,328.7 448.3,337.5 448.6,331.5 448.9,333.7 449.2,330.2 449.5,340.0 449.8,330.7 450.1,331.4 450.4,330.6 450.7,343.1 451.0,336.8 451.3,336.6 451.6,339.1 451.9,333.3 452.2,342.9 452.5,338.1 452.8,327.5 453.1,337.4 453.4,336.6 453.7,333.0 454.0,344.9 454.3,338.5 454.6,344.3 454.9,346.7 455.2,343.5 455.5,341.0 455.8,342.3 456.1,340.5 456.4,341.8 456.7,337.6 457.0,344.6 457.3,335.8 457.6,339.1 457.9,344.8 458.2,343.6 458.5,341.2 458.8,345.7 459.1,344.4 459.4,336.1 459.7,348.2 460.0,342.0 460.3,349.9 460.6,341.2 460.9,342.9 461.2,338.5 461.5,346.5 461.8,345.8 462.1,335.8 462.4,343.6 462.7,338.8 463.0,348.0 463.3,346.9 463.6,348.6 463.9,350.6 464.2,352.5 464.5,350.4 464.8,350.4 465.1,346.0 465.4,346.0 465.7,350.4 466.0,352.5 466.3,348.8 466.6,354.2 466.9,357.2 467.2,354.5 467.5,355.9 467.8,356.8 468.1,358.0 468.4,355.4 468.7,354.3 469.0,355.0 469.3,353.2 469.6,351.1 469.9,357.4 470.2,351.6 470.5,360.2 470.8,352.3 471.1,360.4 471.4,359.2 471.7,369.3 472.0,359.2 472.3,367.3 472.6,358.4 472.9,364.1 473.2,361.4 473.5,363.8 473.8,360.9 474.1,361.9 474.4,367.3 474.7,369.2 475.0,369.2 475.3,367.2 475.6,370.7 475.9,369.9 476.2,365.3 476.5,373.0 476.8,368.2 477.1,370.4 477.4,369.0 477.7,371.7 478.0,373.4 478.3,371.4 478.6,370.0 478.9,376.3 479.2,372.1 479.5,378.2 479.8,377.9 480.1,378.4 480.4,374.9 480.7,368.2 481.0,375.8 481.3,376.9 481.6,374.7 481.9,379.9 482.2,378.9 482.5,375.4 482.8,382.9 483.1,375.2 483.4,383.4 483.7,374.5 484.0,379.1 484.3,376.6 484.6,380.2 484.9,376.4 485.2,379.5 485.5,380.2 485.8,381.2 486.1,386.2 486.4,377.9 486.7,380.4 487.0,380.0 487.3,387.9 487.6,382.7 487.9,380.4 488.2,381.0 488.5,384.6 488.8,382.1 489.1,381.6 489.4,384.4 489.7,380.6 490.0,385.3 490.3,384.4 490.6,386.0 490.9,385.6 491.2,385.3 491.5,383.0 491.8,384.0 492.1,384.7 492.4,384.6 492.7,382.4 493.0,386.4 493.3,387.0 493.6,381.9 493.9,385.5 494.2,388.1 494.5,388.3 494.8,385.0 495.1,388.1 495.4,385.3 495.7,386.5 496.0,390.2 496.3,387.6 496.6,384.0 496.9,389.2 497.2,388.4 497.5,386.0 497.8,389.3 498.1,388.0 498.4,393.4 498.7,386.7 499.0,388.5 499.3,390.3 499.6,389.7 499.9,387.5 500.2,393.3 500.5,389.3 500.8,390.9 501.1,389.3 501.4,390.2 501.7,390.0 502.0,390.1 502.3,390.3 502.6,392.0 502.9,390.7" fill="none" stroke="#3a3a3a" stroke-width="0.8" stroke-linejoin="miter"/>
<line x1="108.8" y1="413.75" x2="492" y2="413.75" stroke="#000" stroke-width="2"/>
<path d="M507.9,413.75 L484.2,405.2 L491,413.75 L484.2,422.2 Z" fill="#000"/>
<text transform="translate(236.25,441.90) scale(0.9708,1.0036)" x="0" y="0" font-family='"Liberation Sans", sans-serif' font-weight="normal" font-size="20" fill="#000">Annexin V-FITC</text>
<line x1="73.9" y1="507.2" x2="73.9" y2="805.7" stroke="#000" stroke-width="1.5"/>
<line x1="73.2" y1="805.0" x2="516" y2="805.0" stroke="#000" stroke-width="1.5"/>
<line x1="64.8" y1="805.00" x2="73.9" y2="805.00" stroke="#000" stroke-width="1.5"/>
<text transform="translate(50.27,812.20) scale(1.0363,1.0323)" x="0" y="0" font-family='"Liberation Sans", sans-serif' font-weight="normal" font-size="20" fill="#000">0</text>
<line x1="64.8" y1="747.76" x2="73.9" y2="747.76" stroke="#000" stroke-width="1.5"/>
<text transform="translate(38.77,754.96) scale(1.0363,1.0323)" x="0" y="0" font-family='"Liberation Sans", sans-serif' font-weight="normal" font-size="20" fill="#000">10</text>
<line x1="64.8" y1="690.52" x2="73.9" y2="690.52" stroke="#000" stroke-width="1.5"/>
<text transform="translate(38.77,697.72) scale(1.0363,1.0323)" x="0" y="0" font-family='"Liberation Sans", sans-serif' font-weight="normal" font-size="20" fill="#000">20</text>
<line x1="64.8" y1="633.28" x2="73.9" y2="633.28" stroke="#000" stroke-width="1.5"/>
<text transform="translate(38.77,640.48) scale(1.0363,1.0323)" x="0" y="0" font-family='"Liberation Sans", sans-serif' font-weight="normal" font-size="20" fill="#000">30</text>
<line x1="64.8" y1="576.04" x2="73.9" y2="576.04" stroke="#000" stroke-width="1.5"/>
<text transform="translate(38.77,583.24) scale(1.0363,1.0323)" x="0" y="0" font-family='"Liberation Sans", sans-serif' font-weight="normal" font-size="20" fill="#000">40</text>
<line x1="64.8" y1="518.80" x2="73.9" y2="518.80" stroke="#000" stroke-width="1.5"/>
<text transform="translate(38.77,526.00) scale(1.0363,1.0323)" x="0" y="0" font-family='"Liberation Sans", sans-serif' font-weight="normal" font-size="20" fill="#000">50</text>
<line x1="119.75" y1="638.3" x2="119.75" y2="704.5" stroke="#000" stroke-width="1.4"/>
<line x1="110.25" y1="638.3" x2="129.25" y2="638.3" stroke="#000" stroke-width="1.5"/>
<rect x="101.85" y="705.10" width="35.80" height="99.90" fill="url(#hatch)" stroke="#000" stroke-width="1.6"/>
<line x1="174.80" y1="799.0" x2="174.80" y2="801.3" stroke="#000" stroke-width="1.4"/>
<line x1="165.30" y1="799.0" x2="184.30" y2="799.0" stroke="#000" stroke-width="1.5"/>
<rect x="156.60" y="801.90" width="36.40" height="3.10" fill="#505050" stroke="#000" stroke-width="1.6"/>
<line x1="267.15" y1="562.0" x2="267.15" y2="585.5" stroke="#000" stroke-width="1.4"/>
<line x1="257.65" y1="562.0" x2="276.65" y2="562.0" stroke="#000" stroke-width="1.5"/>
<rect x="249.10" y="586.10" width="36.10" height="218.90" fill="url(#hatch)" stroke="#000" stroke-width="1.6"/>
<line x1="322.30" y1="788.0" x2="322.30" y2="796.5" stroke="#000" stroke-width="1.4"/>
<line x1="312.80" y1="788.0" x2="331.80" y2="788.0" stroke="#000" stroke-width="1.5"/>
<rect x="304.00" y="797.10" width="36.60" height="7.90" fill="#505050" stroke="#000" stroke-width="1.6"/>
<line x1="414.62" y1="511.2" x2="414.62" y2="557.0" stroke="#000" stroke-width="1.4"/>
<line x1="405.12" y1="511.2" x2="424.12" y2="511.2" stroke="#000" stroke-width="1.5"/>
<rect x="396.85" y="557.60" width="35.55" height="247.40" fill="url(#hatch)" stroke="#000" stroke-width="1.6"/>
<line x1="469.62" y1="627.3" x2="469.62" y2="692.0" stroke="#000" stroke-width="1.4"/>
<line x1="460.12" y1="627.3" x2="479.12" y2="627.3" stroke="#000" stroke-width="1.5"/>
<rect x="451.85" y="692.60" width="35.55" height="112.40" fill="#505050" stroke="#000" stroke-width="1.6"/>
<rect x="83.9" y="509.2" width="42.3" height="12.8" fill="url(#hatch)" stroke="#000" stroke-width="1.7"/>
<rect x="83.9" y="543.7" width="42.3" height="12.1" fill="#505050" stroke="#000" stroke-width="1.7"/>
<text transform="translate(132.78,523.40) scale(1.0447,1.1418)" x="0" y="0" font-family='"Liberation Sans", sans-serif' font-weight="normal" font-size="20" fill="#000">High avidity</text>
<text transform="translate(132.45,557.40) scale(1.0622,1.1127)" x="0" y="0" font-family='"Liberation Sans", sans-serif' font-weight="normal" font-size="20" fill="#000">Low avidity</text>
<text transform="translate(107.88,835.00) scale(1.0885,1.0909)" x="0" y="0" font-family='"Liberation Sans", sans-serif' font-weight="normal" font-size="20" fill="#000">5 μg/mL</text>
<text transform="translate(247.87,835.00) scale(1.0882,1.0836)" x="0" y="0" font-family='"Liberation Sans", sans-serif' font-weight="normal" font-size="20" fill="#000">10 μg/mL</text>
<text transform="translate(396.90,835.00) scale(1.0999,1.0466)" x="0" y="0" font-family='"Liberation Sans", sans-serif' font-weight="normal" font-size="20" fill="#000">20 μg/mL</text>
<text transform="translate(22.00,757.80) rotate(-90) translate(-0.74,0) scale(1.2327,1.2873)" x="0" y="0" font-family='"Liberation Sans", sans-serif' font-size="20">Δ Annexin V</text>
<path d="M1.2,618.95 H10.6 M5.9,614.25 V623.65" stroke="#000" stroke-width="1.5"/>
<text transform="translate(22.00,605.70) rotate(-90) translate(-1.06,0) scale(1.2458,1.2621)" x="0" y="0" font-family='"Liberation Sans", sans-serif' font-size="20">cells</text></svg>
</body></html>
